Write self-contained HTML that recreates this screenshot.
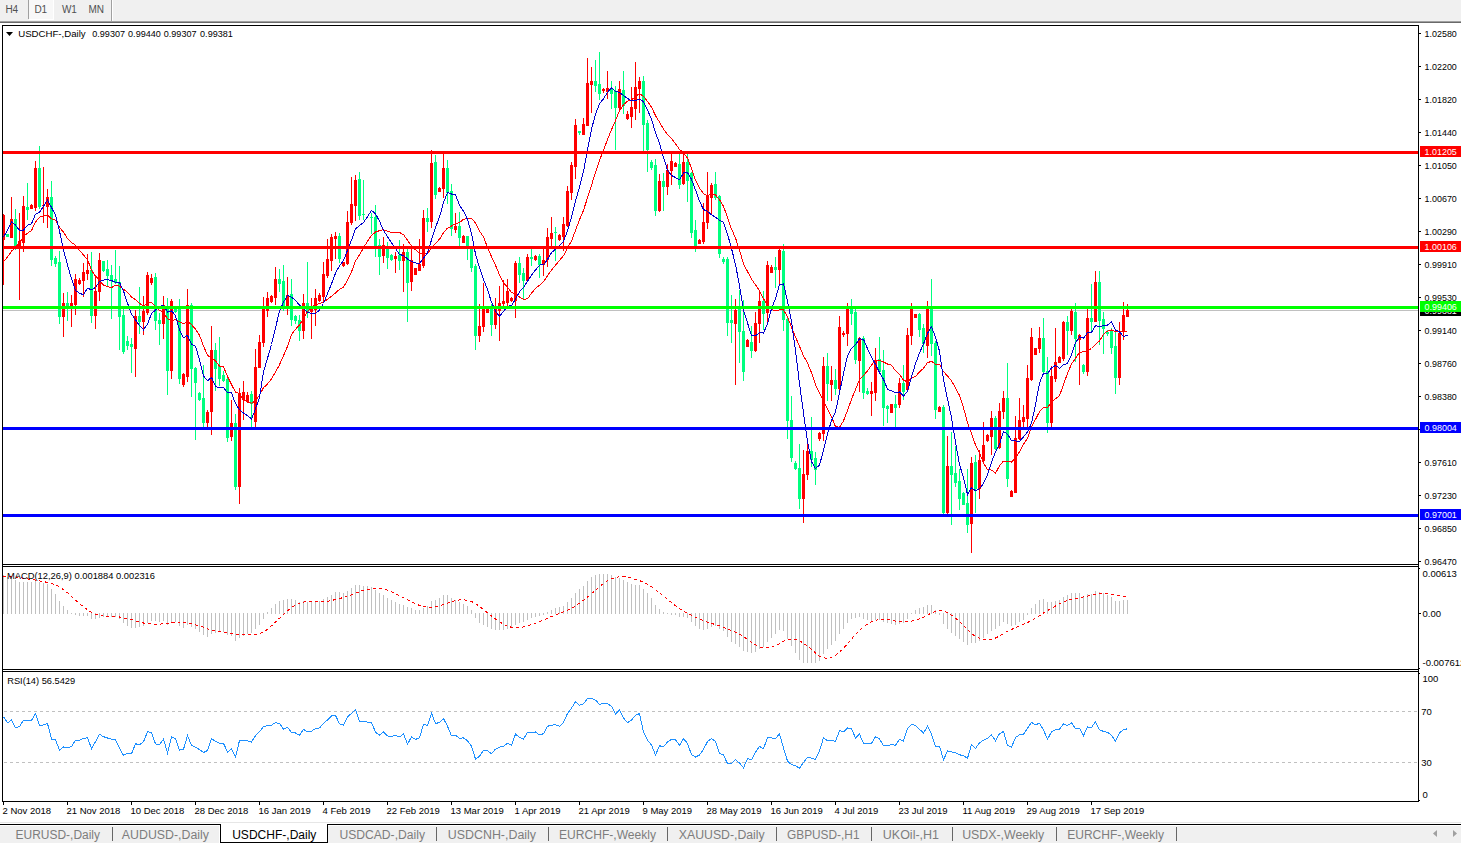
<!DOCTYPE html>
<html><head><meta charset="utf-8"><title>USDCHF-,Daily</title>
<style>
html,body{margin:0;padding:0;background:#fff}
body{width:1461px;height:843px;position:relative;overflow:hidden;font-family:"Liberation Sans",sans-serif;font-size:11px;color:#000}
#tb{position:absolute;left:0;top:0;width:1461px;height:21px;background:#f0f0f0}
#tb .l1{position:absolute;left:0;top:21px;width:100%;height:1px;background:#a0a0a0}
#tb .l2{position:absolute;left:0;top:22px;width:100%;height:1px;background:#696969}
#tb span{position:absolute;top:3.5px;color:#505050;font-size:10px;line-height:11px;letter-spacing:-0.2px}
#tb .sep{position:absolute;top:0;width:1px;height:19px;background:#a0a0a0}
#tb .sel{position:absolute;left:29px;top:0;width:24px;height:19px;background:#f8f8f8;border-right:1px solid #fff;border-bottom:1px solid #fff}
</style></head><body>
<div id="tb"><div class="sel"></div><span style="left:5.5px">H4</span><div class="sep" style="left:28px"></div><span style="left:34.6px">D1</span><span style="left:62px">W1</span><span style="left:88.5px">MN</span><div class="sep" style="left:111px;height:21px"></div><div class="sep" style="left:112px;height:21px;background:#fff"></div><div class="l1"></div><div class="l2"></div></div>
<svg width="1461" height="843" viewBox="0 0 1461 843" shape-rendering="crispEdges" style="position:absolute;left:0;top:0">
<defs><clipPath id="cm"><rect x="3" y="26" width="1415" height="538"/></clipPath></defs>
<g clip-path="url(#cm)">
<rect x="3" y="310" width="1415" height="1" fill="#c0c0c0"/>
<rect x="3" y="214" width="1" height="71" fill="#ff0000"/>
<rect x="2" y="215" width="3" height="25" fill="#ff0000"/>
<rect x="7" y="234" width="1" height="3" fill="#00ff7f"/>
<rect x="6" y="234" width="3" height="3" fill="#00ff7f"/>
<rect x="11" y="197" width="1" height="41" fill="#ff0000"/>
<rect x="10" y="219" width="3" height="19" fill="#ff0000"/>
<rect x="15" y="209" width="1" height="41" fill="#00ff7f"/>
<rect x="14" y="219" width="3" height="29" fill="#00ff7f"/>
<rect x="19" y="213" width="1" height="87" fill="#ff0000"/>
<rect x="18" y="241" width="3" height="7" fill="#ff0000"/>
<rect x="23" y="196" width="1" height="56" fill="#ff0000"/>
<rect x="22" y="206" width="3" height="37" fill="#ff0000"/>
<rect x="27" y="183" width="1" height="37" fill="#00ff7f"/>
<rect x="26" y="207" width="3" height="3" fill="#00ff7f"/>
<rect x="31" y="204" width="1" height="5" fill="#ff0000"/>
<rect x="30" y="205" width="3" height="4" fill="#ff0000"/>
<rect x="35" y="161" width="1" height="50" fill="#ff0000"/>
<rect x="34" y="168" width="3" height="40" fill="#ff0000"/>
<rect x="39" y="146" width="1" height="63" fill="#00ff7f"/>
<rect x="38" y="168" width="3" height="39" fill="#00ff7f"/>
<rect x="43" y="167" width="1" height="56" fill="#ff0000"/>
<rect x="42" y="205" width="3" height="1" fill="#ff0000"/>
<rect x="47" y="189" width="1" height="39" fill="#ff0000"/>
<rect x="46" y="197" width="3" height="10" fill="#ff0000"/>
<rect x="51" y="181" width="1" height="85" fill="#00ff7f"/>
<rect x="50" y="197" width="3" height="63" fill="#00ff7f"/>
<rect x="55" y="256" width="1" height="11" fill="#00ff7f"/>
<rect x="54" y="258" width="3" height="6" fill="#00ff7f"/>
<rect x="59" y="251" width="1" height="73" fill="#00ff7f"/>
<rect x="58" y="262" width="3" height="55" fill="#00ff7f"/>
<rect x="63" y="293" width="1" height="44" fill="#ff0000"/>
<rect x="62" y="303" width="3" height="14" fill="#ff0000"/>
<rect x="67" y="292" width="1" height="29" fill="#00ff7f"/>
<rect x="66" y="303" width="3" height="5" fill="#00ff7f"/>
<rect x="71" y="295" width="1" height="32" fill="#ff0000"/>
<rect x="70" y="303" width="3" height="5" fill="#ff0000"/>
<rect x="75" y="274" width="1" height="41" fill="#ff0000"/>
<rect x="74" y="279" width="3" height="26" fill="#ff0000"/>
<rect x="79" y="278" width="1" height="7" fill="#ff0000"/>
<rect x="78" y="280" width="3" height="4" fill="#ff0000"/>
<rect x="83" y="263" width="1" height="34" fill="#ff0000"/>
<rect x="82" y="272" width="3" height="9" fill="#ff0000"/>
<rect x="87" y="254" width="1" height="26" fill="#ff0000"/>
<rect x="86" y="270" width="3" height="4" fill="#ff0000"/>
<rect x="91" y="252" width="1" height="71" fill="#00ff7f"/>
<rect x="90" y="270" width="3" height="46" fill="#00ff7f"/>
<rect x="95" y="277" width="1" height="52" fill="#ff0000"/>
<rect x="94" y="291" width="3" height="25" fill="#ff0000"/>
<rect x="99" y="253" width="1" height="48" fill="#ff0000"/>
<rect x="98" y="260" width="3" height="32" fill="#ff0000"/>
<rect x="103" y="261" width="1" height="11" fill="#00ff7f"/>
<rect x="102" y="261" width="3" height="10" fill="#00ff7f"/>
<rect x="107" y="260" width="1" height="26" fill="#00ff7f"/>
<rect x="106" y="269" width="3" height="7" fill="#00ff7f"/>
<rect x="111" y="265" width="1" height="54" fill="#00ff7f"/>
<rect x="110" y="275" width="3" height="6" fill="#00ff7f"/>
<rect x="115" y="250" width="1" height="34" fill="#00ff7f"/>
<rect x="114" y="279" width="3" height="4" fill="#00ff7f"/>
<rect x="119" y="266" width="1" height="84" fill="#00ff7f"/>
<rect x="118" y="282" width="3" height="35" fill="#00ff7f"/>
<rect x="123" y="308" width="1" height="46" fill="#00ff7f"/>
<rect x="122" y="315" width="3" height="37" fill="#00ff7f"/>
<rect x="127" y="336" width="1" height="14" fill="#00ff7f"/>
<rect x="126" y="341" width="3" height="5" fill="#00ff7f"/>
<rect x="131" y="338" width="1" height="35" fill="#00ff7f"/>
<rect x="130" y="344" width="3" height="3" fill="#00ff7f"/>
<rect x="135" y="310" width="1" height="67" fill="#ff0000"/>
<rect x="134" y="316" width="3" height="33" fill="#ff0000"/>
<rect x="139" y="287" width="1" height="47" fill="#00ff7f"/>
<rect x="138" y="316" width="3" height="6" fill="#00ff7f"/>
<rect x="143" y="296" width="1" height="39" fill="#ff0000"/>
<rect x="142" y="311" width="3" height="11" fill="#ff0000"/>
<rect x="147" y="272" width="1" height="43" fill="#ff0000"/>
<rect x="146" y="275" width="3" height="38" fill="#ff0000"/>
<rect x="151" y="274" width="1" height="11" fill="#ff0000"/>
<rect x="150" y="278" width="3" height="5" fill="#ff0000"/>
<rect x="155" y="273" width="1" height="57" fill="#00ff7f"/>
<rect x="154" y="277" width="3" height="44" fill="#00ff7f"/>
<rect x="159" y="313" width="1" height="32" fill="#00ff7f"/>
<rect x="158" y="320" width="3" height="4" fill="#00ff7f"/>
<rect x="163" y="296" width="1" height="43" fill="#ff0000"/>
<rect x="162" y="305" width="3" height="19" fill="#ff0000"/>
<rect x="167" y="298" width="1" height="97" fill="#00ff7f"/>
<rect x="166" y="307" width="3" height="64" fill="#00ff7f"/>
<rect x="171" y="299" width="1" height="80" fill="#ff0000"/>
<rect x="170" y="301" width="3" height="70" fill="#ff0000"/>
<rect x="175" y="309" width="1" height="4" fill="#00ff7f"/>
<rect x="174" y="309" width="3" height="3" fill="#00ff7f"/>
<rect x="179" y="299" width="1" height="85" fill="#00ff7f"/>
<rect x="178" y="309" width="3" height="70" fill="#00ff7f"/>
<rect x="183" y="373" width="1" height="14" fill="#ff0000"/>
<rect x="182" y="374" width="3" height="11" fill="#ff0000"/>
<rect x="187" y="289" width="1" height="93" fill="#ff0000"/>
<rect x="186" y="305" width="3" height="72" fill="#ff0000"/>
<rect x="191" y="303" width="1" height="94" fill="#00ff7f"/>
<rect x="190" y="305" width="3" height="64" fill="#00ff7f"/>
<rect x="195" y="367" width="1" height="73" fill="#00ff7f"/>
<rect x="194" y="368" width="3" height="15" fill="#00ff7f"/>
<rect x="199" y="392" width="1" height="9" fill="#00ff7f"/>
<rect x="198" y="393" width="3" height="7" fill="#00ff7f"/>
<rect x="203" y="365" width="1" height="63" fill="#00ff7f"/>
<rect x="202" y="398" width="3" height="25" fill="#00ff7f"/>
<rect x="207" y="410" width="1" height="17" fill="#ff0000"/>
<rect x="206" y="412" width="3" height="11" fill="#ff0000"/>
<rect x="211" y="326" width="1" height="109" fill="#ff0000"/>
<rect x="210" y="350" width="3" height="62" fill="#ff0000"/>
<rect x="215" y="343" width="1" height="48" fill="#00ff7f"/>
<rect x="214" y="350" width="3" height="19" fill="#00ff7f"/>
<rect x="219" y="337" width="1" height="49" fill="#00ff7f"/>
<rect x="218" y="366" width="3" height="13" fill="#00ff7f"/>
<rect x="223" y="371" width="1" height="11" fill="#00ff7f"/>
<rect x="222" y="375" width="3" height="6" fill="#00ff7f"/>
<rect x="227" y="377" width="1" height="65" fill="#00ff7f"/>
<rect x="226" y="379" width="3" height="59" fill="#00ff7f"/>
<rect x="231" y="400" width="1" height="41" fill="#ff0000"/>
<rect x="230" y="423" width="3" height="14" fill="#ff0000"/>
<rect x="235" y="414" width="1" height="76" fill="#00ff7f"/>
<rect x="234" y="423" width="3" height="64" fill="#00ff7f"/>
<rect x="239" y="388" width="1" height="116" fill="#ff0000"/>
<rect x="238" y="393" width="3" height="94" fill="#ff0000"/>
<rect x="243" y="381" width="1" height="39" fill="#ff0000"/>
<rect x="242" y="392" width="3" height="8" fill="#ff0000"/>
<rect x="247" y="392" width="1" height="11" fill="#ff0000"/>
<rect x="246" y="395" width="3" height="7" fill="#ff0000"/>
<rect x="251" y="391" width="1" height="37" fill="#00ff7f"/>
<rect x="250" y="394" width="3" height="10" fill="#00ff7f"/>
<rect x="255" y="349" width="1" height="79" fill="#ff0000"/>
<rect x="254" y="367" width="3" height="55" fill="#ff0000"/>
<rect x="259" y="335" width="1" height="33" fill="#ff0000"/>
<rect x="258" y="342" width="3" height="26" fill="#ff0000"/>
<rect x="263" y="297" width="1" height="50" fill="#ff0000"/>
<rect x="262" y="307" width="3" height="36" fill="#ff0000"/>
<rect x="267" y="292" width="1" height="25" fill="#ff0000"/>
<rect x="266" y="298" width="3" height="13" fill="#ff0000"/>
<rect x="271" y="295" width="1" height="8" fill="#ff0000"/>
<rect x="270" y="296" width="3" height="6" fill="#ff0000"/>
<rect x="275" y="267" width="1" height="38" fill="#ff0000"/>
<rect x="274" y="279" width="3" height="19" fill="#ff0000"/>
<rect x="279" y="269" width="1" height="23" fill="#00ff7f"/>
<rect x="278" y="279" width="3" height="5" fill="#00ff7f"/>
<rect x="283" y="265" width="1" height="46" fill="#00ff7f"/>
<rect x="282" y="281" width="3" height="27" fill="#00ff7f"/>
<rect x="287" y="277" width="1" height="38" fill="#ff0000"/>
<rect x="286" y="295" width="3" height="12" fill="#ff0000"/>
<rect x="291" y="279" width="1" height="47" fill="#00ff7f"/>
<rect x="290" y="294" width="3" height="26" fill="#00ff7f"/>
<rect x="295" y="315" width="1" height="9" fill="#00ff7f"/>
<rect x="294" y="316" width="3" height="5" fill="#00ff7f"/>
<rect x="299" y="315" width="1" height="26" fill="#00ff7f"/>
<rect x="298" y="320" width="3" height="11" fill="#00ff7f"/>
<rect x="303" y="294" width="1" height="45" fill="#ff0000"/>
<rect x="302" y="303" width="3" height="28" fill="#ff0000"/>
<rect x="307" y="262" width="1" height="56" fill="#00ff7f"/>
<rect x="306" y="303" width="3" height="10" fill="#00ff7f"/>
<rect x="311" y="298" width="1" height="41" fill="#ff0000"/>
<rect x="310" y="309" width="3" height="3" fill="#ff0000"/>
<rect x="315" y="289" width="1" height="37" fill="#ff0000"/>
<rect x="314" y="298" width="3" height="12" fill="#ff0000"/>
<rect x="319" y="293" width="1" height="9" fill="#ff0000"/>
<rect x="318" y="295" width="3" height="6" fill="#ff0000"/>
<rect x="323" y="262" width="1" height="39" fill="#ff0000"/>
<rect x="322" y="274" width="3" height="23" fill="#ff0000"/>
<rect x="327" y="239" width="1" height="39" fill="#ff0000"/>
<rect x="326" y="259" width="3" height="17" fill="#ff0000"/>
<rect x="331" y="234" width="1" height="37" fill="#ff0000"/>
<rect x="330" y="237" width="3" height="24" fill="#ff0000"/>
<rect x="335" y="232" width="1" height="27" fill="#ff0000"/>
<rect x="334" y="236" width="3" height="3" fill="#ff0000"/>
<rect x="339" y="233" width="1" height="30" fill="#00ff7f"/>
<rect x="338" y="236" width="3" height="23" fill="#00ff7f"/>
<rect x="343" y="262" width="1" height="5" fill="#ff0000"/>
<rect x="342" y="262" width="3" height="4" fill="#ff0000"/>
<rect x="347" y="211" width="1" height="54" fill="#ff0000"/>
<rect x="346" y="222" width="3" height="42" fill="#ff0000"/>
<rect x="351" y="177" width="1" height="48" fill="#ff0000"/>
<rect x="350" y="204" width="3" height="19" fill="#ff0000"/>
<rect x="355" y="175" width="1" height="46" fill="#ff0000"/>
<rect x="354" y="180" width="3" height="26" fill="#ff0000"/>
<rect x="359" y="172" width="1" height="48" fill="#00ff7f"/>
<rect x="358" y="179" width="3" height="37" fill="#00ff7f"/>
<rect x="363" y="180" width="1" height="40" fill="#00ff7f"/>
<rect x="362" y="214" width="3" height="1" fill="#00ff7f"/>
<rect x="371" y="213" width="1" height="21" fill="#00ff7f"/>
<rect x="370" y="217" width="3" height="1" fill="#00ff7f"/>
<rect x="375" y="205" width="1" height="52" fill="#00ff7f"/>
<rect x="374" y="217" width="3" height="30" fill="#00ff7f"/>
<rect x="379" y="239" width="1" height="36" fill="#00ff7f"/>
<rect x="378" y="245" width="3" height="12" fill="#00ff7f"/>
<rect x="383" y="237" width="1" height="26" fill="#ff0000"/>
<rect x="382" y="245" width="3" height="11" fill="#ff0000"/>
<rect x="387" y="242" width="1" height="27" fill="#00ff7f"/>
<rect x="386" y="249" width="3" height="9" fill="#00ff7f"/>
<rect x="391" y="254" width="1" height="7" fill="#00ff7f"/>
<rect x="390" y="255" width="3" height="5" fill="#00ff7f"/>
<rect x="395" y="252" width="1" height="21" fill="#ff0000"/>
<rect x="394" y="256" width="3" height="3" fill="#ff0000"/>
<rect x="399" y="240" width="1" height="30" fill="#00ff7f"/>
<rect x="398" y="255" width="3" height="6" fill="#00ff7f"/>
<rect x="403" y="244" width="1" height="48" fill="#ff0000"/>
<rect x="402" y="252" width="3" height="9" fill="#ff0000"/>
<rect x="407" y="249" width="1" height="73" fill="#00ff7f"/>
<rect x="406" y="252" width="3" height="31" fill="#00ff7f"/>
<rect x="411" y="246" width="1" height="45" fill="#ff0000"/>
<rect x="410" y="260" width="3" height="22" fill="#ff0000"/>
<rect x="415" y="268" width="1" height="7" fill="#ff0000"/>
<rect x="414" y="268" width="3" height="7" fill="#ff0000"/>
<rect x="419" y="239" width="1" height="32" fill="#ff0000"/>
<rect x="418" y="264" width="3" height="7" fill="#ff0000"/>
<rect x="423" y="210" width="1" height="58" fill="#ff0000"/>
<rect x="422" y="218" width="3" height="48" fill="#ff0000"/>
<rect x="427" y="208" width="1" height="24" fill="#00ff7f"/>
<rect x="426" y="218" width="3" height="4" fill="#00ff7f"/>
<rect x="431" y="150" width="1" height="78" fill="#ff0000"/>
<rect x="430" y="163" width="3" height="59" fill="#ff0000"/>
<rect x="435" y="155" width="1" height="44" fill="#00ff7f"/>
<rect x="434" y="162" width="3" height="33" fill="#00ff7f"/>
<rect x="439" y="187" width="1" height="5" fill="#ff0000"/>
<rect x="438" y="188" width="3" height="4" fill="#ff0000"/>
<rect x="443" y="153" width="1" height="45" fill="#ff0000"/>
<rect x="442" y="168" width="3" height="21" fill="#ff0000"/>
<rect x="447" y="160" width="1" height="44" fill="#00ff7f"/>
<rect x="446" y="168" width="3" height="25" fill="#00ff7f"/>
<rect x="451" y="184" width="1" height="52" fill="#00ff7f"/>
<rect x="450" y="191" width="3" height="38" fill="#00ff7f"/>
<rect x="455" y="213" width="1" height="20" fill="#ff0000"/>
<rect x="454" y="226" width="3" height="4" fill="#ff0000"/>
<rect x="459" y="212" width="1" height="36" fill="#00ff7f"/>
<rect x="458" y="226" width="3" height="12" fill="#00ff7f"/>
<rect x="463" y="235" width="1" height="8" fill="#ff0000"/>
<rect x="462" y="236" width="3" height="7" fill="#ff0000"/>
<rect x="467" y="236" width="1" height="24" fill="#00ff7f"/>
<rect x="466" y="236" width="3" height="11" fill="#00ff7f"/>
<rect x="471" y="246" width="1" height="26" fill="#00ff7f"/>
<rect x="470" y="249" width="3" height="19" fill="#00ff7f"/>
<rect x="475" y="264" width="1" height="86" fill="#00ff7f"/>
<rect x="474" y="266" width="3" height="70" fill="#00ff7f"/>
<rect x="479" y="304" width="1" height="38" fill="#ff0000"/>
<rect x="478" y="326" width="3" height="10" fill="#ff0000"/>
<rect x="483" y="283" width="1" height="49" fill="#ff0000"/>
<rect x="482" y="306" width="3" height="21" fill="#ff0000"/>
<rect x="487" y="308" width="1" height="5" fill="#ff0000"/>
<rect x="486" y="309" width="3" height="4" fill="#ff0000"/>
<rect x="491" y="304" width="1" height="32" fill="#00ff7f"/>
<rect x="490" y="306" width="3" height="19" fill="#00ff7f"/>
<rect x="495" y="298" width="1" height="31" fill="#ff0000"/>
<rect x="494" y="309" width="3" height="16" fill="#ff0000"/>
<rect x="499" y="286" width="1" height="55" fill="#ff0000"/>
<rect x="498" y="303" width="3" height="8" fill="#ff0000"/>
<rect x="503" y="280" width="1" height="27" fill="#ff0000"/>
<rect x="502" y="301" width="3" height="3" fill="#ff0000"/>
<rect x="507" y="279" width="1" height="27" fill="#ff0000"/>
<rect x="506" y="291" width="3" height="12" fill="#ff0000"/>
<rect x="511" y="297" width="1" height="5" fill="#ff0000"/>
<rect x="510" y="298" width="3" height="3" fill="#ff0000"/>
<rect x="515" y="261" width="1" height="57" fill="#ff0000"/>
<rect x="514" y="263" width="3" height="38" fill="#ff0000"/>
<rect x="519" y="257" width="1" height="26" fill="#00ff7f"/>
<rect x="518" y="263" width="3" height="12" fill="#00ff7f"/>
<rect x="523" y="268" width="1" height="31" fill="#00ff7f"/>
<rect x="522" y="273" width="3" height="8" fill="#00ff7f"/>
<rect x="527" y="254" width="1" height="28" fill="#ff0000"/>
<rect x="526" y="257" width="3" height="24" fill="#ff0000"/>
<rect x="531" y="249" width="1" height="17" fill="#00ff7f"/>
<rect x="530" y="257" width="3" height="2" fill="#00ff7f"/>
<rect x="535" y="255" width="1" height="6" fill="#ff0000"/>
<rect x="534" y="256" width="3" height="4" fill="#ff0000"/>
<rect x="539" y="254" width="1" height="24" fill="#00ff7f"/>
<rect x="538" y="256" width="3" height="9" fill="#00ff7f"/>
<rect x="543" y="249" width="1" height="27" fill="#ff0000"/>
<rect x="542" y="260" width="3" height="5" fill="#ff0000"/>
<rect x="547" y="228" width="1" height="39" fill="#ff0000"/>
<rect x="546" y="237" width="3" height="23" fill="#ff0000"/>
<rect x="551" y="217" width="1" height="30" fill="#ff0000"/>
<rect x="550" y="233" width="3" height="6" fill="#ff0000"/>
<rect x="555" y="227" width="1" height="34" fill="#00ff7f"/>
<rect x="554" y="232" width="3" height="1" fill="#00ff7f"/>
<rect x="559" y="234" width="1" height="7" fill="#ff0000"/>
<rect x="558" y="235" width="3" height="5" fill="#ff0000"/>
<rect x="563" y="217" width="1" height="34" fill="#ff0000"/>
<rect x="562" y="224" width="3" height="13" fill="#ff0000"/>
<rect x="567" y="186" width="1" height="41" fill="#ff0000"/>
<rect x="566" y="191" width="3" height="35" fill="#ff0000"/>
<rect x="571" y="162" width="1" height="38" fill="#ff0000"/>
<rect x="570" y="165" width="3" height="28" fill="#ff0000"/>
<rect x="575" y="119" width="1" height="60" fill="#ff0000"/>
<rect x="574" y="125" width="3" height="42" fill="#ff0000"/>
<rect x="579" y="131" width="1" height="4" fill="#00ff7f"/>
<rect x="578" y="131" width="3" height="2" fill="#00ff7f"/>
<rect x="583" y="118" width="1" height="17" fill="#ff0000"/>
<rect x="582" y="124" width="3" height="11" fill="#ff0000"/>
<rect x="587" y="58" width="1" height="68" fill="#ff0000"/>
<rect x="586" y="83" width="3" height="43" fill="#ff0000"/>
<rect x="591" y="67" width="1" height="46" fill="#ff0000"/>
<rect x="590" y="81" width="3" height="4" fill="#ff0000"/>
<rect x="595" y="60" width="1" height="32" fill="#00ff7f"/>
<rect x="594" y="81" width="3" height="5" fill="#00ff7f"/>
<rect x="599" y="52" width="1" height="48" fill="#00ff7f"/>
<rect x="598" y="84" width="3" height="10" fill="#00ff7f"/>
<rect x="603" y="88" width="1" height="5" fill="#ff0000"/>
<rect x="602" y="89" width="3" height="2" fill="#ff0000"/>
<rect x="607" y="71" width="1" height="28" fill="#ff0000"/>
<rect x="606" y="88" width="3" height="4" fill="#ff0000"/>
<rect x="611" y="81" width="1" height="28" fill="#00ff7f"/>
<rect x="610" y="89" width="3" height="5" fill="#00ff7f"/>
<rect x="615" y="86" width="1" height="64" fill="#00ff7f"/>
<rect x="614" y="91" width="3" height="17" fill="#00ff7f"/>
<rect x="619" y="81" width="1" height="30" fill="#ff0000"/>
<rect x="618" y="89" width="3" height="19" fill="#ff0000"/>
<rect x="623" y="71" width="1" height="43" fill="#00ff7f"/>
<rect x="622" y="90" width="3" height="16" fill="#00ff7f"/>
<rect x="627" y="111" width="1" height="9" fill="#ff0000"/>
<rect x="626" y="114" width="3" height="5" fill="#ff0000"/>
<rect x="631" y="87" width="1" height="41" fill="#ff0000"/>
<rect x="630" y="107" width="3" height="10" fill="#ff0000"/>
<rect x="635" y="62" width="1" height="58" fill="#ff0000"/>
<rect x="634" y="87" width="3" height="22" fill="#ff0000"/>
<rect x="639" y="77" width="1" height="36" fill="#ff0000"/>
<rect x="638" y="81" width="3" height="8" fill="#ff0000"/>
<rect x="643" y="76" width="1" height="76" fill="#00ff7f"/>
<rect x="642" y="81" width="3" height="44" fill="#00ff7f"/>
<rect x="647" y="120" width="1" height="52" fill="#00ff7f"/>
<rect x="646" y="123" width="3" height="27" fill="#00ff7f"/>
<rect x="651" y="160" width="1" height="10" fill="#00ff7f"/>
<rect x="650" y="162" width="3" height="6" fill="#00ff7f"/>
<rect x="655" y="159" width="1" height="57" fill="#00ff7f"/>
<rect x="654" y="165" width="3" height="46" fill="#00ff7f"/>
<rect x="659" y="174" width="1" height="38" fill="#ff0000"/>
<rect x="658" y="181" width="3" height="30" fill="#ff0000"/>
<rect x="663" y="173" width="1" height="38" fill="#00ff7f"/>
<rect x="662" y="181" width="3" height="6" fill="#00ff7f"/>
<rect x="667" y="164" width="1" height="31" fill="#ff0000"/>
<rect x="666" y="170" width="3" height="17" fill="#ff0000"/>
<rect x="671" y="154" width="1" height="31" fill="#ff0000"/>
<rect x="670" y="161" width="3" height="10" fill="#ff0000"/>
<rect x="675" y="162" width="1" height="5" fill="#ff0000"/>
<rect x="674" y="163" width="3" height="4" fill="#ff0000"/>
<rect x="679" y="154" width="1" height="35" fill="#00ff7f"/>
<rect x="678" y="164" width="3" height="21" fill="#00ff7f"/>
<rect x="683" y="154" width="1" height="31" fill="#ff0000"/>
<rect x="682" y="162" width="3" height="22" fill="#ff0000"/>
<rect x="687" y="154" width="1" height="48" fill="#00ff7f"/>
<rect x="686" y="162" width="3" height="19" fill="#00ff7f"/>
<rect x="691" y="172" width="1" height="66" fill="#00ff7f"/>
<rect x="690" y="173" width="3" height="60" fill="#00ff7f"/>
<rect x="695" y="220" width="1" height="32" fill="#00ff7f"/>
<rect x="694" y="230" width="3" height="16" fill="#00ff7f"/>
<rect x="699" y="239" width="1" height="5" fill="#ff0000"/>
<rect x="698" y="240" width="3" height="4" fill="#ff0000"/>
<rect x="703" y="203" width="1" height="41" fill="#ff0000"/>
<rect x="702" y="222" width="3" height="20" fill="#ff0000"/>
<rect x="707" y="172" width="1" height="57" fill="#ff0000"/>
<rect x="706" y="196" width="3" height="27" fill="#ff0000"/>
<rect x="711" y="183" width="1" height="32" fill="#ff0000"/>
<rect x="710" y="185" width="3" height="13" fill="#ff0000"/>
<rect x="715" y="172" width="1" height="28" fill="#00ff7f"/>
<rect x="714" y="184" width="3" height="14" fill="#00ff7f"/>
<rect x="719" y="195" width="1" height="63" fill="#00ff7f"/>
<rect x="718" y="196" width="3" height="58" fill="#00ff7f"/>
<rect x="723" y="257" width="1" height="7" fill="#00ff7f"/>
<rect x="722" y="259" width="3" height="3" fill="#00ff7f"/>
<rect x="727" y="257" width="1" height="79" fill="#00ff7f"/>
<rect x="726" y="259" width="3" height="64" fill="#00ff7f"/>
<rect x="731" y="295" width="1" height="48" fill="#00ff7f"/>
<rect x="730" y="320" width="3" height="3" fill="#00ff7f"/>
<rect x="735" y="299" width="1" height="86" fill="#ff0000"/>
<rect x="734" y="310" width="3" height="14" fill="#ff0000"/>
<rect x="739" y="290" width="1" height="73" fill="#00ff7f"/>
<rect x="738" y="309" width="3" height="23" fill="#00ff7f"/>
<rect x="743" y="300" width="1" height="81" fill="#00ff7f"/>
<rect x="742" y="331" width="3" height="41" fill="#00ff7f"/>
<rect x="747" y="339" width="1" height="8" fill="#ff0000"/>
<rect x="746" y="340" width="3" height="7" fill="#ff0000"/>
<rect x="751" y="326" width="1" height="32" fill="#00ff7f"/>
<rect x="750" y="342" width="3" height="9" fill="#00ff7f"/>
<rect x="755" y="312" width="1" height="40" fill="#ff0000"/>
<rect x="754" y="323" width="3" height="28" fill="#ff0000"/>
<rect x="759" y="292" width="1" height="51" fill="#ff0000"/>
<rect x="758" y="301" width="3" height="23" fill="#ff0000"/>
<rect x="763" y="291" width="1" height="39" fill="#00ff7f"/>
<rect x="762" y="301" width="3" height="13" fill="#00ff7f"/>
<rect x="767" y="261" width="1" height="62" fill="#ff0000"/>
<rect x="766" y="265" width="3" height="48" fill="#ff0000"/>
<rect x="771" y="265" width="1" height="8" fill="#ff0000"/>
<rect x="770" y="267" width="3" height="6" fill="#ff0000"/>
<rect x="775" y="257" width="1" height="31" fill="#00ff7f"/>
<rect x="774" y="267" width="3" height="3" fill="#00ff7f"/>
<rect x="779" y="249" width="1" height="36" fill="#ff0000"/>
<rect x="778" y="250" width="3" height="20" fill="#ff0000"/>
<rect x="783" y="244" width="1" height="87" fill="#00ff7f"/>
<rect x="782" y="251" width="3" height="69" fill="#00ff7f"/>
<rect x="787" y="318" width="1" height="121" fill="#00ff7f"/>
<rect x="786" y="319" width="3" height="102" fill="#00ff7f"/>
<rect x="791" y="396" width="1" height="66" fill="#00ff7f"/>
<rect x="790" y="420" width="3" height="38" fill="#00ff7f"/>
<rect x="795" y="461" width="1" height="9" fill="#00ff7f"/>
<rect x="794" y="463" width="3" height="6" fill="#00ff7f"/>
<rect x="799" y="444" width="1" height="65" fill="#00ff7f"/>
<rect x="798" y="468" width="3" height="31" fill="#00ff7f"/>
<rect x="803" y="450" width="1" height="73" fill="#ff0000"/>
<rect x="802" y="474" width="3" height="25" fill="#ff0000"/>
<rect x="807" y="444" width="1" height="36" fill="#ff0000"/>
<rect x="806" y="451" width="3" height="24" fill="#ff0000"/>
<rect x="811" y="417" width="1" height="50" fill="#00ff7f"/>
<rect x="810" y="451" width="3" height="9" fill="#00ff7f"/>
<rect x="815" y="452" width="1" height="33" fill="#00ff7f"/>
<rect x="814" y="458" width="3" height="12" fill="#00ff7f"/>
<rect x="819" y="432" width="1" height="9" fill="#ff0000"/>
<rect x="818" y="433" width="3" height="6" fill="#ff0000"/>
<rect x="823" y="357" width="1" height="84" fill="#ff0000"/>
<rect x="822" y="366" width="3" height="68" fill="#ff0000"/>
<rect x="827" y="353" width="1" height="48" fill="#00ff7f"/>
<rect x="826" y="366" width="3" height="18" fill="#00ff7f"/>
<rect x="831" y="366" width="1" height="35" fill="#ff0000"/>
<rect x="830" y="380" width="3" height="5" fill="#ff0000"/>
<rect x="835" y="369" width="1" height="26" fill="#00ff7f"/>
<rect x="834" y="380" width="3" height="9" fill="#00ff7f"/>
<rect x="839" y="316" width="1" height="74" fill="#ff0000"/>
<rect x="838" y="327" width="3" height="62" fill="#ff0000"/>
<rect x="843" y="331" width="1" height="6" fill="#ff0000"/>
<rect x="842" y="333" width="3" height="2" fill="#ff0000"/>
<rect x="847" y="303" width="1" height="43" fill="#ff0000"/>
<rect x="846" y="309" width="3" height="25" fill="#ff0000"/>
<rect x="851" y="299" width="1" height="26" fill="#00ff7f"/>
<rect x="850" y="309" width="3" height="5" fill="#00ff7f"/>
<rect x="855" y="308" width="1" height="56" fill="#00ff7f"/>
<rect x="854" y="312" width="3" height="48" fill="#00ff7f"/>
<rect x="859" y="337" width="1" height="55" fill="#ff0000"/>
<rect x="858" y="338" width="3" height="23" fill="#ff0000"/>
<rect x="863" y="336" width="1" height="63" fill="#00ff7f"/>
<rect x="862" y="338" width="3" height="55" fill="#00ff7f"/>
<rect x="867" y="388" width="1" height="7" fill="#00ff7f"/>
<rect x="866" y="391" width="3" height="3" fill="#00ff7f"/>
<rect x="871" y="382" width="1" height="34" fill="#ff0000"/>
<rect x="870" y="391" width="3" height="3" fill="#ff0000"/>
<rect x="875" y="348" width="1" height="53" fill="#ff0000"/>
<rect x="874" y="360" width="3" height="33" fill="#ff0000"/>
<rect x="879" y="337" width="1" height="36" fill="#00ff7f"/>
<rect x="878" y="359" width="3" height="13" fill="#00ff7f"/>
<rect x="883" y="350" width="1" height="76" fill="#00ff7f"/>
<rect x="882" y="370" width="3" height="38" fill="#00ff7f"/>
<rect x="887" y="405" width="1" height="18" fill="#00ff7f"/>
<rect x="886" y="406" width="3" height="3" fill="#00ff7f"/>
<rect x="891" y="404" width="1" height="9" fill="#ff0000"/>
<rect x="890" y="404" width="3" height="9" fill="#ff0000"/>
<rect x="895" y="395" width="1" height="32" fill="#00ff7f"/>
<rect x="894" y="404" width="3" height="4" fill="#00ff7f"/>
<rect x="899" y="378" width="1" height="30" fill="#ff0000"/>
<rect x="898" y="383" width="3" height="22" fill="#ff0000"/>
<rect x="903" y="365" width="1" height="35" fill="#00ff7f"/>
<rect x="902" y="383" width="3" height="9" fill="#00ff7f"/>
<rect x="907" y="328" width="1" height="64" fill="#ff0000"/>
<rect x="906" y="335" width="3" height="55" fill="#ff0000"/>
<rect x="911" y="303" width="1" height="42" fill="#ff0000"/>
<rect x="910" y="309" width="3" height="27" fill="#ff0000"/>
<rect x="915" y="314" width="1" height="4" fill="#ff0000"/>
<rect x="914" y="314" width="3" height="4" fill="#ff0000"/>
<rect x="919" y="313" width="1" height="24" fill="#00ff7f"/>
<rect x="918" y="314" width="3" height="16" fill="#00ff7f"/>
<rect x="923" y="324" width="1" height="29" fill="#00ff7f"/>
<rect x="922" y="328" width="3" height="16" fill="#00ff7f"/>
<rect x="927" y="301" width="1" height="57" fill="#ff0000"/>
<rect x="926" y="309" width="3" height="37" fill="#ff0000"/>
<rect x="931" y="279" width="1" height="77" fill="#00ff7f"/>
<rect x="930" y="309" width="3" height="35" fill="#00ff7f"/>
<rect x="935" y="341" width="1" height="78" fill="#00ff7f"/>
<rect x="934" y="343" width="3" height="67" fill="#00ff7f"/>
<rect x="939" y="406" width="1" height="6" fill="#ff0000"/>
<rect x="938" y="407" width="3" height="5" fill="#ff0000"/>
<rect x="943" y="405" width="1" height="110" fill="#00ff7f"/>
<rect x="942" y="407" width="3" height="106" fill="#00ff7f"/>
<rect x="947" y="436" width="1" height="78" fill="#ff0000"/>
<rect x="946" y="466" width="3" height="47" fill="#ff0000"/>
<rect x="951" y="432" width="1" height="93" fill="#00ff7f"/>
<rect x="950" y="466" width="3" height="9" fill="#00ff7f"/>
<rect x="955" y="446" width="1" height="41" fill="#00ff7f"/>
<rect x="954" y="473" width="3" height="10" fill="#00ff7f"/>
<rect x="959" y="469" width="1" height="41" fill="#00ff7f"/>
<rect x="958" y="481" width="3" height="18" fill="#00ff7f"/>
<rect x="963" y="492" width="1" height="13" fill="#00ff7f"/>
<rect x="962" y="493" width="3" height="12" fill="#00ff7f"/>
<rect x="967" y="469" width="1" height="64" fill="#00ff7f"/>
<rect x="966" y="503" width="3" height="22" fill="#00ff7f"/>
<rect x="971" y="457" width="1" height="96" fill="#ff0000"/>
<rect x="970" y="463" width="3" height="61" fill="#ff0000"/>
<rect x="975" y="455" width="1" height="58" fill="#00ff7f"/>
<rect x="974" y="462" width="3" height="27" fill="#00ff7f"/>
<rect x="979" y="450" width="1" height="49" fill="#ff0000"/>
<rect x="978" y="460" width="3" height="29" fill="#ff0000"/>
<rect x="983" y="422" width="1" height="41" fill="#ff0000"/>
<rect x="982" y="445" width="3" height="16" fill="#ff0000"/>
<rect x="987" y="434" width="1" height="8" fill="#ff0000"/>
<rect x="986" y="435" width="3" height="6" fill="#ff0000"/>
<rect x="991" y="411" width="1" height="44" fill="#ff0000"/>
<rect x="990" y="418" width="3" height="19" fill="#ff0000"/>
<rect x="995" y="416" width="1" height="34" fill="#00ff7f"/>
<rect x="994" y="418" width="3" height="31" fill="#00ff7f"/>
<rect x="999" y="403" width="1" height="46" fill="#ff0000"/>
<rect x="998" y="411" width="3" height="37" fill="#ff0000"/>
<rect x="1003" y="391" width="1" height="28" fill="#ff0000"/>
<rect x="1002" y="398" width="3" height="14" fill="#ff0000"/>
<rect x="1007" y="363" width="1" height="124" fill="#00ff7f"/>
<rect x="1006" y="398" width="3" height="81" fill="#00ff7f"/>
<rect x="1011" y="490" width="1" height="7" fill="#ff0000"/>
<rect x="1010" y="491" width="3" height="6" fill="#ff0000"/>
<rect x="1015" y="416" width="1" height="77" fill="#ff0000"/>
<rect x="1014" y="438" width="3" height="55" fill="#ff0000"/>
<rect x="1019" y="398" width="1" height="42" fill="#ff0000"/>
<rect x="1018" y="420" width="3" height="19" fill="#ff0000"/>
<rect x="1023" y="405" width="1" height="23" fill="#ff0000"/>
<rect x="1022" y="417" width="3" height="5" fill="#ff0000"/>
<rect x="1027" y="365" width="1" height="63" fill="#ff0000"/>
<rect x="1026" y="378" width="3" height="41" fill="#ff0000"/>
<rect x="1031" y="328" width="1" height="53" fill="#ff0000"/>
<rect x="1030" y="337" width="3" height="43" fill="#ff0000"/>
<rect x="1035" y="348" width="1" height="7" fill="#ff0000"/>
<rect x="1034" y="348" width="3" height="7" fill="#ff0000"/>
<rect x="1039" y="327" width="1" height="26" fill="#ff0000"/>
<rect x="1038" y="338" width="3" height="11" fill="#ff0000"/>
<rect x="1043" y="318" width="1" height="56" fill="#00ff7f"/>
<rect x="1042" y="338" width="3" height="34" fill="#00ff7f"/>
<rect x="1047" y="357" width="1" height="76" fill="#00ff7f"/>
<rect x="1046" y="371" width="3" height="52" fill="#00ff7f"/>
<rect x="1051" y="366" width="1" height="61" fill="#ff0000"/>
<rect x="1050" y="376" width="3" height="47" fill="#ff0000"/>
<rect x="1055" y="328" width="1" height="54" fill="#ff0000"/>
<rect x="1054" y="362" width="3" height="17" fill="#ff0000"/>
<rect x="1059" y="356" width="1" height="7" fill="#ff0000"/>
<rect x="1058" y="357" width="3" height="6" fill="#ff0000"/>
<rect x="1063" y="321" width="1" height="40" fill="#ff0000"/>
<rect x="1062" y="322" width="3" height="37" fill="#ff0000"/>
<rect x="1067" y="316" width="1" height="39" fill="#00ff7f"/>
<rect x="1066" y="322" width="3" height="9" fill="#00ff7f"/>
<rect x="1071" y="309" width="1" height="26" fill="#ff0000"/>
<rect x="1070" y="311" width="3" height="20" fill="#ff0000"/>
<rect x="1075" y="303" width="1" height="59" fill="#00ff7f"/>
<rect x="1074" y="312" width="3" height="27" fill="#00ff7f"/>
<rect x="1079" y="334" width="1" height="51" fill="#ff0000"/>
<rect x="1078" y="335" width="3" height="5" fill="#ff0000"/>
<rect x="1083" y="364" width="1" height="10" fill="#00ff7f"/>
<rect x="1082" y="365" width="3" height="7" fill="#00ff7f"/>
<rect x="1087" y="309" width="1" height="67" fill="#ff0000"/>
<rect x="1086" y="318" width="3" height="54" fill="#ff0000"/>
<rect x="1091" y="284" width="1" height="48" fill="#00ff7f"/>
<rect x="1090" y="318" width="3" height="4" fill="#00ff7f"/>
<rect x="1095" y="271" width="1" height="51" fill="#ff0000"/>
<rect x="1094" y="282" width="3" height="40" fill="#ff0000"/>
<rect x="1099" y="271" width="1" height="74" fill="#00ff7f"/>
<rect x="1098" y="282" width="3" height="39" fill="#00ff7f"/>
<rect x="1103" y="312" width="1" height="42" fill="#00ff7f"/>
<rect x="1102" y="319" width="3" height="10" fill="#00ff7f"/>
<rect x="1107" y="330" width="1" height="6" fill="#00ff7f"/>
<rect x="1106" y="332" width="3" height="2" fill="#00ff7f"/>
<rect x="1111" y="328" width="1" height="26" fill="#00ff7f"/>
<rect x="1110" y="331" width="3" height="17" fill="#00ff7f"/>
<rect x="1115" y="331" width="1" height="63" fill="#00ff7f"/>
<rect x="1114" y="346" width="3" height="32" fill="#00ff7f"/>
<rect x="1119" y="322" width="1" height="63" fill="#ff0000"/>
<rect x="1118" y="333" width="3" height="45" fill="#ff0000"/>
<rect x="1123" y="302" width="1" height="38" fill="#ff0000"/>
<rect x="1122" y="315" width="3" height="16" fill="#ff0000"/>
<rect x="1127" y="304" width="1" height="13" fill="#ff0000"/>
<rect x="1126" y="310" width="3" height="7" fill="#ff0000"/>
<polyline points="3.5,261.8 7.5,257.1 11.5,251.2 15.5,247.3 19.5,243.0 23.5,236.2 27.5,233.3 31.5,230.5 35.5,222.1 39.5,217.1 43.5,215.7 47.5,215.1 51.5,218.8 55.5,220.2 59.5,227.4 63.5,232.2 67.5,238.5 71.5,242.5 75.5,245.2 79.5,250.4 83.5,255.0 87.5,259.6 91.5,270.1 95.5,276.1 99.5,280.1 103.5,285.3 107.5,286.4 111.5,287.7 115.5,285.2 119.5,286.2 123.5,289.3 127.5,292.3 131.5,297.1 135.5,299.7 139.5,303.2 143.5,306.1 147.5,303.3 151.5,302.3 155.5,306.6 159.5,310.4 163.5,312.5 167.5,318.9 171.5,320.3 175.5,319.9 179.5,321.9 183.5,323.9 187.5,321.0 191.5,324.7 195.5,329.1 199.5,335.4 203.5,345.9 207.5,355.5 211.5,357.6 215.5,360.8 219.5,366.1 223.5,366.8 227.5,376.5 231.5,384.5 235.5,392.2 239.5,393.5 243.5,399.8 247.5,401.7 251.5,403.2 255.5,400.9 259.5,395.2 263.5,387.7 267.5,384.0 271.5,378.8 275.5,371.8 279.5,364.8 283.5,355.6 287.5,346.4 291.5,334.5 295.5,329.3 299.5,324.9 303.5,318.3 307.5,311.8 311.5,307.6 315.5,304.5 319.5,303.7 323.5,301.9 327.5,299.3 331.5,296.3 335.5,292.9 339.5,289.4 343.5,287.1 347.5,280.1 351.5,271.8 355.5,261.1 359.5,254.8 363.5,247.8 367.5,241.2 371.5,235.5 375.5,232.0 379.5,230.7 383.5,229.7 387.5,231.1 391.5,232.8 395.5,232.6 399.5,232.5 403.5,234.6 407.5,240.2 411.5,245.9 415.5,249.8 419.5,253.3 423.5,253.4 427.5,253.7 431.5,247.7 435.5,243.3 439.5,239.2 443.5,232.8 447.5,228.1 451.5,226.1 455.5,223.7 459.5,222.6 463.5,219.3 467.5,218.3 471.5,218.2 475.5,223.2 479.5,230.9 483.5,237.0 487.5,247.4 491.5,256.6 495.5,265.3 499.5,275.0 503.5,282.7 507.5,287.2 511.5,292.4 515.5,294.3 519.5,297.0 523.5,299.4 527.5,298.8 531.5,293.3 535.5,288.3 539.5,285.3 543.5,281.8 547.5,275.7 551.5,270.2 555.5,265.2 559.5,260.5 563.5,255.7 567.5,248.0 571.5,241.0 575.5,230.4 579.5,219.8 583.5,210.3 587.5,197.8 591.5,185.3 595.5,172.5 599.5,160.5 603.5,150.0 607.5,139.6 611.5,129.7 615.5,120.5 619.5,110.8 623.5,104.7 627.5,101.1 631.5,99.8 635.5,96.6 639.5,93.5 643.5,96.4 647.5,101.3 651.5,107.2 655.5,115.6 659.5,122.1 663.5,129.1 667.5,134.7 671.5,138.6 675.5,143.8 679.5,149.4 683.5,152.8 687.5,158.0 691.5,168.3 695.5,180.1 699.5,188.3 703.5,193.6 707.5,195.7 711.5,193.8 715.5,195.0 719.5,199.7 723.5,206.2 727.5,217.6 731.5,229.0 735.5,238.0 739.5,250.1 743.5,263.8 747.5,271.5 751.5,279.0 755.5,284.9 759.5,290.6 763.5,298.9 767.5,304.6 771.5,309.6 775.5,310.7 779.5,309.9 783.5,309.8 787.5,316.8 791.5,327.3 795.5,337.1 799.5,346.2 803.5,355.8 807.5,363.0 811.5,372.7 815.5,384.7 819.5,393.3 823.5,400.5 827.5,408.8 831.5,416.8 835.5,426.7 839.5,427.2 843.5,420.9 847.5,410.4 851.5,399.3 855.5,389.4 859.5,379.7 863.5,375.5 867.5,370.8 871.5,365.2 875.5,360.0 879.5,360.4 883.5,362.0 887.5,364.0 891.5,365.1 895.5,370.8 899.5,374.4 903.5,380.2 907.5,381.8 911.5,378.2 915.5,376.5 919.5,371.9 923.5,368.4 927.5,362.6 931.5,361.4 935.5,364.2 939.5,364.2 943.5,371.6 947.5,376.0 951.5,380.8 955.5,387.9 959.5,395.5 963.5,407.6 967.5,422.9 971.5,433.5 975.5,444.9 979.5,453.2 983.5,462.9 987.5,469.5 991.5,470.1 995.5,473.1 999.5,465.9 1003.5,461.1 1007.5,461.4 1011.5,462.1 1015.5,457.8 1019.5,451.9 1023.5,444.2 1027.5,438.2 1031.5,427.4 1035.5,419.4 1039.5,411.8 1043.5,407.2 1047.5,407.4 1051.5,402.3 1055.5,398.8 1059.5,395.8 1063.5,384.7 1067.5,373.2 1071.5,364.1 1075.5,358.2 1079.5,352.4 1083.5,351.8 1087.5,350.5 1091.5,348.5 1095.5,344.5 1099.5,340.9 1103.5,334.2 1107.5,331.1 1111.5,330.0 1115.5,331.4 1119.5,332.1 1123.5,331.1 1127.5,331.0" fill="none" stroke="#ff0000" stroke-width="1" />
<polyline points="3.5,237.1 7.5,230.1 11.5,221.9 15.5,225.1 19.5,230.3 23.5,230.1 27.5,225.3 31.5,223.8 35.5,214.1 39.5,212.2 43.5,206.3 47.5,200.0 51.5,207.5 55.5,215.2 59.5,231.0 63.5,250.3 67.5,264.8 71.5,278.8 75.5,290.4 79.5,293.3 83.5,294.7 87.5,288.2 91.5,289.8 95.5,287.5 99.5,281.4 103.5,280.1 107.5,279.6 111.5,280.6 115.5,282.3 119.5,282.5 123.5,291.0 127.5,303.2 131.5,314.1 135.5,319.9 139.5,325.7 143.5,329.8 147.5,324.0 151.5,313.6 155.5,310.1 159.5,306.7 163.5,305.1 167.5,312.1 171.5,310.7 175.5,315.8 179.5,330.2 183.5,337.8 187.5,335.3 191.5,344.4 195.5,346.1 199.5,360.1 203.5,375.9 207.5,380.8 211.5,377.4 215.5,386.4 219.5,387.7 223.5,387.5 227.5,392.8 231.5,393.0 235.5,403.5 239.5,409.7 243.5,413.1 247.5,415.6 251.5,418.9 255.5,408.9 259.5,397.4 263.5,371.8 267.5,358.3 271.5,344.5 275.5,328.0 279.5,310.8 283.5,302.2 287.5,295.5 291.5,297.2 295.5,300.4 299.5,305.2 303.5,308.7 307.5,312.8 311.5,313.1 315.5,313.4 319.5,310.1 323.5,303.5 327.5,293.4 331.5,284.0 335.5,273.1 339.5,265.8 343.5,260.7 347.5,250.2 351.5,240.1 355.5,228.8 359.5,225.6 363.5,222.6 367.5,216.7 371.5,210.3 375.5,213.8 379.5,221.2 383.5,230.5 387.5,236.6 391.5,242.9 395.5,248.5 399.5,254.6 403.5,255.4 407.5,259.1 411.5,261.4 415.5,263.0 419.5,263.7 423.5,258.3 427.5,252.7 431.5,240.0 435.5,227.5 439.5,217.0 443.5,202.7 447.5,192.5 451.5,194.0 455.5,194.6 459.5,205.2 463.5,211.1 467.5,219.5 471.5,233.6 475.5,254.0 479.5,267.9 483.5,279.3 487.5,289.6 491.5,302.1 495.5,311.2 499.5,316.3 503.5,311.5 507.5,306.5 511.5,305.5 515.5,299.0 519.5,291.8 523.5,287.7 527.5,281.2 531.5,275.1 535.5,270.0 539.5,265.1 543.5,264.7 547.5,259.5 551.5,252.7 555.5,249.2 559.5,245.9 563.5,241.3 567.5,230.9 571.5,217.3 575.5,201.3 579.5,186.9 583.5,171.4 587.5,149.7 591.5,129.3 595.5,114.1 599.5,103.8 603.5,98.7 607.5,92.3 611.5,87.9 615.5,91.3 619.5,92.4 623.5,95.4 627.5,98.4 631.5,101.0 635.5,100.8 639.5,99.1 643.5,101.6 647.5,110.2 651.5,119.0 655.5,132.7 659.5,143.3 663.5,157.4 667.5,170.2 671.5,175.5 675.5,177.5 679.5,179.9 683.5,172.9 687.5,172.8 691.5,179.2 695.5,189.9 699.5,201.1 703.5,209.6 707.5,211.4 711.5,214.7 715.5,217.2 719.5,220.2 723.5,222.5 727.5,234.1 731.5,248.4 735.5,264.6 739.5,285.5 743.5,310.4 747.5,322.9 751.5,335.5 755.5,335.7 759.5,332.7 763.5,333.1 767.5,323.6 771.5,308.7 775.5,298.6 779.5,284.4 783.5,283.9 787.5,301.0 791.5,321.6 795.5,350.6 799.5,383.7 803.5,413.0 807.5,441.6 811.5,461.5 815.5,468.5 819.5,465.0 823.5,450.4 827.5,434.0 831.5,420.6 835.5,411.7 839.5,392.9 843.5,373.4 847.5,355.8 851.5,348.2 855.5,344.7 859.5,338.8 863.5,339.3 867.5,348.7 871.5,357.0 875.5,364.3 879.5,372.6 883.5,379.3 887.5,389.2 891.5,390.9 895.5,392.9 899.5,391.8 903.5,396.2 907.5,391.1 911.5,377.1 915.5,363.7 919.5,353.0 923.5,343.9 927.5,333.4 931.5,326.6 935.5,337.3 939.5,351.2 943.5,379.4 947.5,399.0 951.5,417.7 955.5,442.4 959.5,464.4 963.5,477.8 967.5,494.6 971.5,487.6 975.5,490.7 979.5,488.7 983.5,483.5 987.5,474.6 991.5,462.4 995.5,451.7 999.5,444.3 1003.5,431.5 1007.5,434.2 1011.5,440.6 1015.5,441.0 1019.5,441.3 1023.5,436.8 1027.5,432.1 1031.5,423.3 1035.5,404.7 1039.5,382.9 1043.5,373.3 1047.5,373.6 1051.5,367.7 1055.5,365.4 1059.5,368.3 1063.5,364.6 1067.5,363.5 1071.5,354.9 1075.5,342.9 1079.5,337.0 1083.5,338.2 1087.5,332.6 1091.5,332.4 1095.5,325.6 1099.5,326.9 1103.5,325.5 1107.5,325.1 1111.5,321.7 1115.5,330.1 1119.5,331.8 1123.5,336.6 1127.5,335.2" fill="none" stroke="#0000cd" stroke-width="1" />
<rect x="3" y="151" width="1415" height="3" fill="#ff0000"/>
<rect x="3" y="246" width="1415" height="3" fill="#ff0000"/>
<rect x="3" y="306" width="1415" height="3" fill="#00ff00"/>
<rect x="3" y="427" width="1415" height="3" fill="#0000ff"/>
<rect x="3" y="514" width="1415" height="3" fill="#0000ff"/>
</g>
<rect x="3" y="575" width="1" height="39" fill="#c0c0c0"/>
<rect x="7" y="577" width="1" height="37" fill="#c0c0c0"/>
<rect x="11" y="577" width="1" height="37" fill="#c0c0c0"/>
<rect x="15" y="580" width="1" height="34" fill="#c0c0c0"/>
<rect x="19" y="582" width="1" height="32" fill="#c0c0c0"/>
<rect x="23" y="582" width="1" height="32" fill="#c0c0c0"/>
<rect x="27" y="582" width="1" height="32" fill="#c0c0c0"/>
<rect x="31" y="582" width="1" height="32" fill="#c0c0c0"/>
<rect x="35" y="580" width="1" height="34" fill="#c0c0c0"/>
<rect x="39" y="582" width="1" height="32" fill="#c0c0c0"/>
<rect x="43" y="583" width="1" height="31" fill="#c0c0c0"/>
<rect x="47" y="584" width="1" height="30" fill="#c0c0c0"/>
<rect x="51" y="589" width="1" height="25" fill="#c0c0c0"/>
<rect x="55" y="594" width="1" height="20" fill="#c0c0c0"/>
<rect x="59" y="601" width="1" height="13" fill="#c0c0c0"/>
<rect x="63" y="606" width="1" height="8" fill="#c0c0c0"/>
<rect x="67" y="610" width="1" height="4" fill="#c0c0c0"/>
<rect x="71" y="613" width="1" height="1" fill="#c0c0c0"/>
<rect x="75" y="613" width="1" height="2" fill="#c0c0c0"/>
<rect x="79" y="613" width="1" height="3" fill="#c0c0c0"/>
<rect x="83" y="613" width="1" height="3" fill="#c0c0c0"/>
<rect x="87" y="613" width="1" height="3" fill="#c0c0c0"/>
<rect x="91" y="613" width="1" height="6" fill="#c0c0c0"/>
<rect x="95" y="613" width="1" height="6" fill="#c0c0c0"/>
<rect x="99" y="613" width="1" height="5" fill="#c0c0c0"/>
<rect x="103" y="613" width="1" height="4" fill="#c0c0c0"/>
<rect x="107" y="613" width="1" height="4" fill="#c0c0c0"/>
<rect x="111" y="613" width="1" height="4" fill="#c0c0c0"/>
<rect x="115" y="613" width="1" height="4" fill="#c0c0c0"/>
<rect x="119" y="613" width="1" height="6" fill="#c0c0c0"/>
<rect x="123" y="613" width="1" height="10" fill="#c0c0c0"/>
<rect x="127" y="613" width="1" height="13" fill="#c0c0c0"/>
<rect x="131" y="613" width="1" height="15" fill="#c0c0c0"/>
<rect x="135" y="613" width="1" height="15" fill="#c0c0c0"/>
<rect x="139" y="613" width="1" height="14" fill="#c0c0c0"/>
<rect x="143" y="613" width="1" height="13" fill="#c0c0c0"/>
<rect x="147" y="613" width="1" height="10" fill="#c0c0c0"/>
<rect x="151" y="613" width="1" height="8" fill="#c0c0c0"/>
<rect x="155" y="613" width="1" height="8" fill="#c0c0c0"/>
<rect x="159" y="613" width="1" height="9" fill="#c0c0c0"/>
<rect x="163" y="613" width="1" height="8" fill="#c0c0c0"/>
<rect x="167" y="613" width="1" height="12" fill="#c0c0c0"/>
<rect x="171" y="613" width="1" height="10" fill="#c0c0c0"/>
<rect x="175" y="613" width="1" height="9" fill="#c0c0c0"/>
<rect x="179" y="613" width="1" height="13" fill="#c0c0c0"/>
<rect x="183" y="613" width="1" height="15" fill="#c0c0c0"/>
<rect x="187" y="613" width="1" height="12" fill="#c0c0c0"/>
<rect x="191" y="613" width="1" height="14" fill="#c0c0c0"/>
<rect x="195" y="613" width="1" height="16" fill="#c0c0c0"/>
<rect x="199" y="613" width="1" height="19" fill="#c0c0c0"/>
<rect x="203" y="613" width="1" height="22" fill="#c0c0c0"/>
<rect x="207" y="613" width="1" height="24" fill="#c0c0c0"/>
<rect x="211" y="613" width="1" height="21" fill="#c0c0c0"/>
<rect x="215" y="613" width="1" height="20" fill="#c0c0c0"/>
<rect x="219" y="613" width="1" height="19" fill="#c0c0c0"/>
<rect x="223" y="613" width="1" height="19" fill="#c0c0c0"/>
<rect x="227" y="613" width="1" height="22" fill="#c0c0c0"/>
<rect x="231" y="613" width="1" height="23" fill="#c0c0c0"/>
<rect x="235" y="613" width="1" height="28" fill="#c0c0c0"/>
<rect x="239" y="613" width="1" height="25" fill="#c0c0c0"/>
<rect x="243" y="613" width="1" height="23" fill="#c0c0c0"/>
<rect x="247" y="613" width="1" height="21" fill="#c0c0c0"/>
<rect x="251" y="613" width="1" height="20" fill="#c0c0c0"/>
<rect x="255" y="613" width="1" height="16" fill="#c0c0c0"/>
<rect x="259" y="613" width="1" height="12" fill="#c0c0c0"/>
<rect x="263" y="613" width="1" height="6" fill="#c0c0c0"/>
<rect x="267" y="612" width="1" height="2" fill="#c0c0c0"/>
<rect x="271" y="608" width="1" height="6" fill="#c0c0c0"/>
<rect x="275" y="604" width="1" height="10" fill="#c0c0c0"/>
<rect x="279" y="601" width="1" height="13" fill="#c0c0c0"/>
<rect x="283" y="600" width="1" height="14" fill="#c0c0c0"/>
<rect x="287" y="599" width="1" height="15" fill="#c0c0c0"/>
<rect x="291" y="599" width="1" height="15" fill="#c0c0c0"/>
<rect x="295" y="600" width="1" height="14" fill="#c0c0c0"/>
<rect x="299" y="602" width="1" height="12" fill="#c0c0c0"/>
<rect x="303" y="601" width="1" height="13" fill="#c0c0c0"/>
<rect x="307" y="602" width="1" height="12" fill="#c0c0c0"/>
<rect x="311" y="602" width="1" height="12" fill="#c0c0c0"/>
<rect x="315" y="601" width="1" height="13" fill="#c0c0c0"/>
<rect x="319" y="601" width="1" height="13" fill="#c0c0c0"/>
<rect x="323" y="599" width="1" height="15" fill="#c0c0c0"/>
<rect x="327" y="597" width="1" height="17" fill="#c0c0c0"/>
<rect x="331" y="595" width="1" height="19" fill="#c0c0c0"/>
<rect x="335" y="592" width="1" height="22" fill="#c0c0c0"/>
<rect x="339" y="592" width="1" height="22" fill="#c0c0c0"/>
<rect x="343" y="593" width="1" height="21" fill="#c0c0c0"/>
<rect x="347" y="591" width="1" height="23" fill="#c0c0c0"/>
<rect x="351" y="588" width="1" height="26" fill="#c0c0c0"/>
<rect x="355" y="585" width="1" height="29" fill="#c0c0c0"/>
<rect x="359" y="585" width="1" height="29" fill="#c0c0c0"/>
<rect x="363" y="586" width="1" height="28" fill="#c0c0c0"/>
<rect x="367" y="586" width="1" height="28" fill="#c0c0c0"/>
<rect x="371" y="587" width="1" height="27" fill="#c0c0c0"/>
<rect x="375" y="590" width="1" height="24" fill="#c0c0c0"/>
<rect x="379" y="593" width="1" height="21" fill="#c0c0c0"/>
<rect x="383" y="595" width="1" height="19" fill="#c0c0c0"/>
<rect x="387" y="598" width="1" height="16" fill="#c0c0c0"/>
<rect x="391" y="600" width="1" height="14" fill="#c0c0c0"/>
<rect x="395" y="602" width="1" height="12" fill="#c0c0c0"/>
<rect x="399" y="604" width="1" height="10" fill="#c0c0c0"/>
<rect x="403" y="605" width="1" height="9" fill="#c0c0c0"/>
<rect x="407" y="607" width="1" height="7" fill="#c0c0c0"/>
<rect x="411" y="608" width="1" height="6" fill="#c0c0c0"/>
<rect x="415" y="610" width="1" height="4" fill="#c0c0c0"/>
<rect x="419" y="610" width="1" height="4" fill="#c0c0c0"/>
<rect x="423" y="608" width="1" height="6" fill="#c0c0c0"/>
<rect x="427" y="606" width="1" height="8" fill="#c0c0c0"/>
<rect x="431" y="601" width="1" height="13" fill="#c0c0c0"/>
<rect x="435" y="600" width="1" height="14" fill="#c0c0c0"/>
<rect x="439" y="598" width="1" height="16" fill="#c0c0c0"/>
<rect x="443" y="595" width="1" height="19" fill="#c0c0c0"/>
<rect x="447" y="595" width="1" height="19" fill="#c0c0c0"/>
<rect x="451" y="598" width="1" height="16" fill="#c0c0c0"/>
<rect x="455" y="600" width="1" height="14" fill="#c0c0c0"/>
<rect x="459" y="602" width="1" height="12" fill="#c0c0c0"/>
<rect x="463" y="604" width="1" height="10" fill="#c0c0c0"/>
<rect x="467" y="606" width="1" height="8" fill="#c0c0c0"/>
<rect x="471" y="610" width="1" height="4" fill="#c0c0c0"/>
<rect x="475" y="613" width="1" height="5" fill="#c0c0c0"/>
<rect x="479" y="613" width="1" height="10" fill="#c0c0c0"/>
<rect x="483" y="613" width="1" height="12" fill="#c0c0c0"/>
<rect x="487" y="613" width="1" height="14" fill="#c0c0c0"/>
<rect x="491" y="613" width="1" height="16" fill="#c0c0c0"/>
<rect x="495" y="613" width="1" height="17" fill="#c0c0c0"/>
<rect x="499" y="613" width="1" height="17" fill="#c0c0c0"/>
<rect x="503" y="613" width="1" height="17" fill="#c0c0c0"/>
<rect x="507" y="613" width="1" height="16" fill="#c0c0c0"/>
<rect x="511" y="613" width="1" height="15" fill="#c0c0c0"/>
<rect x="515" y="613" width="1" height="12" fill="#c0c0c0"/>
<rect x="519" y="613" width="1" height="10" fill="#c0c0c0"/>
<rect x="523" y="613" width="1" height="9" fill="#c0c0c0"/>
<rect x="527" y="613" width="1" height="7" fill="#c0c0c0"/>
<rect x="531" y="613" width="1" height="5" fill="#c0c0c0"/>
<rect x="535" y="613" width="1" height="4" fill="#c0c0c0"/>
<rect x="539" y="613" width="1" height="3" fill="#c0c0c0"/>
<rect x="543" y="613" width="1" height="2" fill="#c0c0c0"/>
<rect x="547" y="612" width="1" height="2" fill="#c0c0c0"/>
<rect x="551" y="610" width="1" height="4" fill="#c0c0c0"/>
<rect x="555" y="608" width="1" height="6" fill="#c0c0c0"/>
<rect x="559" y="607" width="1" height="7" fill="#c0c0c0"/>
<rect x="563" y="606" width="1" height="8" fill="#c0c0c0"/>
<rect x="567" y="602" width="1" height="12" fill="#c0c0c0"/>
<rect x="571" y="598" width="1" height="16" fill="#c0c0c0"/>
<rect x="575" y="593" width="1" height="21" fill="#c0c0c0"/>
<rect x="579" y="589" width="1" height="25" fill="#c0c0c0"/>
<rect x="583" y="586" width="1" height="28" fill="#c0c0c0"/>
<rect x="587" y="581" width="1" height="33" fill="#c0c0c0"/>
<rect x="591" y="577" width="1" height="37" fill="#c0c0c0"/>
<rect x="595" y="575" width="1" height="39" fill="#c0c0c0"/>
<rect x="599" y="574" width="1" height="40" fill="#c0c0c0"/>
<rect x="603" y="574" width="1" height="40" fill="#c0c0c0"/>
<rect x="607" y="574" width="1" height="40" fill="#c0c0c0"/>
<rect x="611" y="575" width="1" height="39" fill="#c0c0c0"/>
<rect x="615" y="577" width="1" height="37" fill="#c0c0c0"/>
<rect x="619" y="578" width="1" height="36" fill="#c0c0c0"/>
<rect x="623" y="580" width="1" height="34" fill="#c0c0c0"/>
<rect x="627" y="582" width="1" height="32" fill="#c0c0c0"/>
<rect x="631" y="584" width="1" height="30" fill="#c0c0c0"/>
<rect x="635" y="585" width="1" height="29" fill="#c0c0c0"/>
<rect x="639" y="585" width="1" height="29" fill="#c0c0c0"/>
<rect x="643" y="589" width="1" height="25" fill="#c0c0c0"/>
<rect x="647" y="593" width="1" height="21" fill="#c0c0c0"/>
<rect x="651" y="598" width="1" height="16" fill="#c0c0c0"/>
<rect x="655" y="605" width="1" height="9" fill="#c0c0c0"/>
<rect x="659" y="609" width="1" height="5" fill="#c0c0c0"/>
<rect x="663" y="612" width="1" height="2" fill="#c0c0c0"/>
<rect x="667" y="613" width="1" height="1" fill="#c0c0c0"/>
<rect x="671" y="613" width="1" height="2" fill="#c0c0c0"/>
<rect x="675" y="613" width="1" height="2" fill="#c0c0c0"/>
<rect x="679" y="613" width="1" height="4" fill="#c0c0c0"/>
<rect x="683" y="613" width="1" height="4" fill="#c0c0c0"/>
<rect x="687" y="613" width="1" height="5" fill="#c0c0c0"/>
<rect x="691" y="613" width="1" height="9" fill="#c0c0c0"/>
<rect x="695" y="613" width="1" height="13" fill="#c0c0c0"/>
<rect x="699" y="613" width="1" height="16" fill="#c0c0c0"/>
<rect x="703" y="613" width="1" height="17" fill="#c0c0c0"/>
<rect x="707" y="613" width="1" height="16" fill="#c0c0c0"/>
<rect x="711" y="613" width="1" height="14" fill="#c0c0c0"/>
<rect x="715" y="613" width="1" height="13" fill="#c0c0c0"/>
<rect x="719" y="613" width="1" height="16" fill="#c0c0c0"/>
<rect x="723" y="613" width="1" height="18" fill="#c0c0c0"/>
<rect x="727" y="613" width="1" height="24" fill="#c0c0c0"/>
<rect x="731" y="613" width="1" height="29" fill="#c0c0c0"/>
<rect x="735" y="613" width="1" height="31" fill="#c0c0c0"/>
<rect x="739" y="613" width="1" height="34" fill="#c0c0c0"/>
<rect x="743" y="613" width="1" height="38" fill="#c0c0c0"/>
<rect x="747" y="613" width="1" height="39" fill="#c0c0c0"/>
<rect x="751" y="613" width="1" height="40" fill="#c0c0c0"/>
<rect x="755" y="613" width="1" height="39" fill="#c0c0c0"/>
<rect x="759" y="613" width="1" height="36" fill="#c0c0c0"/>
<rect x="763" y="613" width="1" height="34" fill="#c0c0c0"/>
<rect x="767" y="613" width="1" height="29" fill="#c0c0c0"/>
<rect x="771" y="613" width="1" height="25" fill="#c0c0c0"/>
<rect x="775" y="613" width="1" height="21" fill="#c0c0c0"/>
<rect x="779" y="613" width="1" height="17" fill="#c0c0c0"/>
<rect x="783" y="613" width="1" height="18" fill="#c0c0c0"/>
<rect x="787" y="613" width="1" height="26" fill="#c0c0c0"/>
<rect x="791" y="613" width="1" height="33" fill="#c0c0c0"/>
<rect x="795" y="613" width="1" height="40" fill="#c0c0c0"/>
<rect x="799" y="613" width="1" height="47" fill="#c0c0c0"/>
<rect x="803" y="613" width="1" height="50" fill="#c0c0c0"/>
<rect x="807" y="613" width="1" height="50" fill="#c0c0c0"/>
<rect x="811" y="613" width="1" height="50" fill="#c0c0c0"/>
<rect x="815" y="613" width="1" height="50" fill="#c0c0c0"/>
<rect x="819" y="613" width="1" height="48" fill="#c0c0c0"/>
<rect x="823" y="613" width="1" height="41" fill="#c0c0c0"/>
<rect x="827" y="613" width="1" height="36" fill="#c0c0c0"/>
<rect x="831" y="613" width="1" height="32" fill="#c0c0c0"/>
<rect x="835" y="613" width="1" height="28" fill="#c0c0c0"/>
<rect x="839" y="613" width="1" height="21" fill="#c0c0c0"/>
<rect x="843" y="613" width="1" height="16" fill="#c0c0c0"/>
<rect x="847" y="613" width="1" height="10" fill="#c0c0c0"/>
<rect x="851" y="613" width="1" height="6" fill="#c0c0c0"/>
<rect x="855" y="613" width="1" height="5" fill="#c0c0c0"/>
<rect x="859" y="613" width="1" height="4" fill="#c0c0c0"/>
<rect x="863" y="613" width="1" height="6" fill="#c0c0c0"/>
<rect x="867" y="613" width="1" height="7" fill="#c0c0c0"/>
<rect x="871" y="613" width="1" height="8" fill="#c0c0c0"/>
<rect x="875" y="613" width="1" height="7" fill="#c0c0c0"/>
<rect x="879" y="613" width="1" height="7" fill="#c0c0c0"/>
<rect x="883" y="613" width="1" height="9" fill="#c0c0c0"/>
<rect x="887" y="613" width="1" height="10" fill="#c0c0c0"/>
<rect x="891" y="613" width="1" height="11" fill="#c0c0c0"/>
<rect x="895" y="613" width="1" height="12" fill="#c0c0c0"/>
<rect x="899" y="613" width="1" height="11" fill="#c0c0c0"/>
<rect x="903" y="613" width="1" height="10" fill="#c0c0c0"/>
<rect x="907" y="613" width="1" height="6" fill="#c0c0c0"/>
<rect x="911" y="613" width="1" height="1" fill="#c0c0c0"/>
<rect x="915" y="610" width="1" height="4" fill="#c0c0c0"/>
<rect x="919" y="608" width="1" height="6" fill="#c0c0c0"/>
<rect x="923" y="607" width="1" height="7" fill="#c0c0c0"/>
<rect x="927" y="605" width="1" height="9" fill="#c0c0c0"/>
<rect x="931" y="605" width="1" height="9" fill="#c0c0c0"/>
<rect x="935" y="610" width="1" height="4" fill="#c0c0c0"/>
<rect x="939" y="613" width="1" height="2" fill="#c0c0c0"/>
<rect x="943" y="613" width="1" height="11" fill="#c0c0c0"/>
<rect x="947" y="613" width="1" height="16" fill="#c0c0c0"/>
<rect x="951" y="613" width="1" height="20" fill="#c0c0c0"/>
<rect x="955" y="613" width="1" height="23" fill="#c0c0c0"/>
<rect x="959" y="613" width="1" height="26" fill="#c0c0c0"/>
<rect x="963" y="613" width="1" height="29" fill="#c0c0c0"/>
<rect x="967" y="613" width="1" height="32" fill="#c0c0c0"/>
<rect x="971" y="613" width="1" height="30" fill="#c0c0c0"/>
<rect x="975" y="613" width="1" height="30" fill="#c0c0c0"/>
<rect x="979" y="613" width="1" height="28" fill="#c0c0c0"/>
<rect x="983" y="613" width="1" height="25" fill="#c0c0c0"/>
<rect x="987" y="613" width="1" height="21" fill="#c0c0c0"/>
<rect x="991" y="613" width="1" height="18" fill="#c0c0c0"/>
<rect x="995" y="613" width="1" height="16" fill="#c0c0c0"/>
<rect x="999" y="613" width="1" height="13" fill="#c0c0c0"/>
<rect x="1003" y="613" width="1" height="9" fill="#c0c0c0"/>
<rect x="1007" y="613" width="1" height="11" fill="#c0c0c0"/>
<rect x="1011" y="613" width="1" height="13" fill="#c0c0c0"/>
<rect x="1015" y="613" width="1" height="12" fill="#c0c0c0"/>
<rect x="1019" y="613" width="1" height="9" fill="#c0c0c0"/>
<rect x="1023" y="613" width="1" height="7" fill="#c0c0c0"/>
<rect x="1027" y="613" width="1" height="2" fill="#c0c0c0"/>
<rect x="1031" y="608" width="1" height="6" fill="#c0c0c0"/>
<rect x="1035" y="604" width="1" height="10" fill="#c0c0c0"/>
<rect x="1039" y="600" width="1" height="14" fill="#c0c0c0"/>
<rect x="1043" y="599" width="1" height="15" fill="#c0c0c0"/>
<rect x="1047" y="602" width="1" height="12" fill="#c0c0c0"/>
<rect x="1051" y="602" width="1" height="12" fill="#c0c0c0"/>
<rect x="1055" y="601" width="1" height="13" fill="#c0c0c0"/>
<rect x="1059" y="600" width="1" height="14" fill="#c0c0c0"/>
<rect x="1063" y="597" width="1" height="17" fill="#c0c0c0"/>
<rect x="1067" y="595" width="1" height="19" fill="#c0c0c0"/>
<rect x="1071" y="593" width="1" height="21" fill="#c0c0c0"/>
<rect x="1075" y="593" width="1" height="21" fill="#c0c0c0"/>
<rect x="1079" y="593" width="1" height="21" fill="#c0c0c0"/>
<rect x="1083" y="596" width="1" height="18" fill="#c0c0c0"/>
<rect x="1087" y="594" width="1" height="20" fill="#c0c0c0"/>
<rect x="1091" y="594" width="1" height="20" fill="#c0c0c0"/>
<rect x="1095" y="591" width="1" height="23" fill="#c0c0c0"/>
<rect x="1099" y="592" width="1" height="22" fill="#c0c0c0"/>
<rect x="1103" y="593" width="1" height="21" fill="#c0c0c0"/>
<rect x="1107" y="595" width="1" height="19" fill="#c0c0c0"/>
<rect x="1111" y="597" width="1" height="17" fill="#c0c0c0"/>
<rect x="1115" y="601" width="1" height="13" fill="#c0c0c0"/>
<rect x="1119" y="601" width="1" height="13" fill="#c0c0c0"/>
<rect x="1123" y="600" width="1" height="14" fill="#c0c0c0"/>
<rect x="1127" y="600" width="1" height="14" fill="#c0c0c0"/>
<polyline points="3.5,576.2 7.5,576.3 11.5,576.4 15.5,576.9 19.5,577.6 23.5,578.2 27.5,578.9 31.5,579.6 35.5,580.1 39.5,580.9 43.5,581.6 47.5,582.4 51.5,583.5 55.5,584.8 59.5,587.0 63.5,589.6 67.5,592.8 71.5,596.4 75.5,600.0 79.5,603.5 83.5,606.9 87.5,609.7 91.5,612.4 95.5,614.3 99.5,615.4 103.5,616.1 107.5,616.3 111.5,616.5 115.5,616.6 119.5,617.0 123.5,617.8 127.5,618.7 131.5,619.7 135.5,620.8 139.5,621.9 143.5,623.0 147.5,623.7 151.5,624.1 155.5,624.3 159.5,624.2 163.5,623.6 167.5,623.3 171.5,622.8 175.5,622.2 179.5,622.1 183.5,622.7 187.5,623.3 191.5,623.9 195.5,624.8 199.5,626.0 203.5,627.1 207.5,628.7 211.5,630.1 215.5,630.9 219.5,631.3 223.5,632.0 227.5,632.8 231.5,633.6 235.5,634.5 239.5,634.9 243.5,634.7 247.5,634.7 251.5,634.7 255.5,634.4 259.5,633.6 263.5,631.8 267.5,629.3 271.5,625.8 275.5,622.1 279.5,618.2 283.5,614.6 287.5,610.9 291.5,607.7 295.5,605.1 299.5,603.3 303.5,602.1 307.5,601.3 311.5,601.1 315.5,601.2 319.5,601.3 323.5,601.4 327.5,601.2 331.5,600.5 335.5,599.5 339.5,598.5 343.5,597.5 347.5,596.3 351.5,594.9 355.5,593.1 359.5,591.6 363.5,590.3 367.5,589.4 371.5,588.8 375.5,588.5 379.5,588.6 383.5,589.1 387.5,590.1 391.5,591.8 395.5,593.6 399.5,595.6 403.5,597.7 407.5,599.9 411.5,601.9 415.5,603.7 419.5,605.4 423.5,606.5 427.5,607.2 431.5,607.1 435.5,606.6 439.5,605.9 443.5,604.5 447.5,603.1 451.5,601.8 455.5,600.6 459.5,600.0 463.5,599.8 467.5,600.4 471.5,601.5 475.5,603.6 479.5,606.5 483.5,609.7 487.5,612.8 491.5,616.0 495.5,618.9 499.5,621.7 503.5,624.2 507.5,626.1 511.5,627.3 515.5,627.6 519.5,627.4 523.5,626.9 527.5,625.9 531.5,624.6 535.5,623.1 539.5,621.5 543.5,620.0 547.5,618.3 551.5,616.6 555.5,615.0 559.5,613.4 563.5,611.9 567.5,610.3 571.5,608.4 575.5,605.9 579.5,603.2 583.5,600.3 587.5,597.1 591.5,593.7 595.5,590.2 599.5,586.7 603.5,583.6 607.5,580.9 611.5,578.9 615.5,577.6 619.5,576.7 623.5,576.6 627.5,577.2 631.5,578.2 635.5,579.3 639.5,580.6 643.5,582.2 647.5,584.2 651.5,586.6 655.5,589.6 659.5,592.8 663.5,596.1 667.5,599.3 671.5,602.5 675.5,605.8 679.5,608.8 683.5,611.4 687.5,613.5 691.5,615.3 695.5,617.2 699.5,619.0 703.5,620.7 707.5,622.2 711.5,623.5 715.5,624.5 719.5,625.7 723.5,627.2 727.5,628.9 731.5,630.5 735.5,632.2 739.5,634.0 743.5,636.5 747.5,639.3 751.5,642.3 755.5,644.9 759.5,646.8 763.5,647.9 767.5,647.9 771.5,647.2 775.5,645.9 779.5,643.5 783.5,641.2 787.5,639.6 791.5,639.0 795.5,639.5 799.5,640.9 803.5,643.2 807.5,646.0 811.5,649.3 815.5,653.0 819.5,656.2 823.5,657.9 827.5,658.2 831.5,657.3 835.5,655.2 839.5,652.1 843.5,648.3 847.5,643.9 851.5,639.0 855.5,634.3 859.5,630.2 863.5,626.8 867.5,624.1 871.5,621.9 875.5,620.3 879.5,619.3 883.5,619.1 887.5,619.6 891.5,620.2 895.5,621.2 899.5,621.7 903.5,622.1 907.5,621.8 911.5,621.2 915.5,620.1 919.5,618.7 923.5,617.1 927.5,615.0 931.5,613.0 935.5,611.6 939.5,610.6 943.5,611.1 947.5,612.7 951.5,615.2 955.5,618.2 959.5,621.6 963.5,625.6 967.5,629.9 971.5,633.4 975.5,636.6 979.5,638.4 983.5,639.5 987.5,639.7 991.5,639.1 995.5,638.0 999.5,636.1 1003.5,633.5 1007.5,631.4 1011.5,629.5 1015.5,627.7 1019.5,626.0 1023.5,624.3 1027.5,622.6 1031.5,620.3 1035.5,618.0 1039.5,615.8 1043.5,613.1 1047.5,610.6 1051.5,608.2 1055.5,606.0 1059.5,603.9 1063.5,601.9 1067.5,600.5 1071.5,599.2 1075.5,598.4 1079.5,597.7 1083.5,596.9 1087.5,596.1 1091.5,595.3 1095.5,594.4 1099.5,593.8 1103.5,593.6 1107.5,593.9 1111.5,594.3 1115.5,595.2 1119.5,595.8 1123.5,596.5 1127.5,597.2" fill="none" stroke="#ff0000" stroke-width="1" stroke-dasharray="3 3"/>
<line x1="4" y1="711.5" x2="1418" y2="711.5" stroke="#c0c0c0" stroke-width="1" stroke-dasharray="3 3"/>
<line x1="4" y1="762.5" x2="1418" y2="762.5" stroke="#c0c0c0" stroke-width="1" stroke-dasharray="3 3"/>
<polyline points="3.5,716.6 7.5,722.9 11.5,719.9 15.5,727.8 19.5,726.6 23.5,720.1 27.5,720.9 31.5,720.2 35.5,713.8 39.5,725.1 43.5,725.0 47.5,723.4 51.5,739.2 55.5,740.0 59.5,750.1 63.5,746.9 67.5,747.7 71.5,746.6 75.5,740.3 79.5,740.4 83.5,738.4 87.5,737.7 91.5,748.6 95.5,741.8 99.5,734.3 103.5,736.7 107.5,738.0 111.5,739.2 115.5,739.7 119.5,748.3 123.5,755.3 127.5,753.5 131.5,753.8 135.5,743.7 139.5,744.9 143.5,741.8 147.5,731.7 151.5,732.5 155.5,743.9 159.5,744.4 163.5,739.2 167.5,753.0 171.5,736.7 175.5,738.7 179.5,750.1 183.5,749.2 187.5,735.7 191.5,745.4 195.5,747.3 199.5,749.6 203.5,752.5 207.5,750.5 211.5,738.7 215.5,741.5 219.5,743.1 223.5,743.4 227.5,751.9 231.5,749.0 235.5,756.9 239.5,740.5 243.5,740.3 247.5,740.8 251.5,742.0 255.5,735.7 259.5,731.8 263.5,726.7 267.5,725.4 271.5,725.1 275.5,722.6 279.5,723.5 283.5,729.2 287.5,727.1 291.5,732.6 295.5,733.0 299.5,735.2 303.5,729.5 307.5,731.7 311.5,731.1 315.5,728.6 319.5,728.0 323.5,723.2 327.5,720.0 331.5,715.8 335.5,715.5 339.5,723.7 343.5,725.2 347.5,716.7 351.5,713.5 355.5,709.7 359.5,721.4 363.5,721.4 367.5,722.1 371.5,722.4 375.5,732.2 379.5,735.0 383.5,731.9 387.5,735.9 391.5,736.4 395.5,735.3 399.5,736.9 403.5,734.0 407.5,744.2 411.5,736.8 415.5,739.4 419.5,737.8 423.5,724.2 427.5,725.3 431.5,713.1 435.5,723.7 439.5,722.3 443.5,718.5 447.5,726.2 451.5,736.0 455.5,735.3 459.5,738.2 463.5,737.9 467.5,740.7 471.5,746.1 475.5,759.1 479.5,756.4 483.5,750.2 487.5,750.8 491.5,753.7 495.5,749.1 499.5,747.1 503.5,746.5 507.5,743.1 511.5,745.2 515.5,734.1 519.5,737.2 523.5,739.2 527.5,732.3 531.5,732.7 535.5,731.9 539.5,734.9 543.5,733.7 547.5,726.3 551.5,725.1 555.5,724.9 559.5,726.3 563.5,722.4 567.5,713.5 571.5,708.1 575.5,701.8 579.5,705.2 583.5,703.9 587.5,698.5 591.5,698.2 595.5,700.1 599.5,704.3 603.5,703.7 607.5,703.5 611.5,706.3 615.5,714.1 619.5,709.9 623.5,718.1 627.5,722.5 631.5,720.3 635.5,715.1 639.5,713.6 643.5,732.1 647.5,740.1 651.5,745.1 655.5,755.1 659.5,745.7 663.5,746.9 667.5,742.0 671.5,739.3 675.5,739.7 679.5,745.4 683.5,738.6 687.5,743.4 691.5,754.6 695.5,757.0 699.5,755.1 703.5,749.3 707.5,741.5 711.5,738.6 715.5,741.6 719.5,753.3 723.5,754.8 727.5,763.7 731.5,763.8 735.5,759.8 739.5,762.9 743.5,767.9 747.5,758.5 751.5,759.8 755.5,752.2 759.5,746.5 763.5,748.7 767.5,737.5 771.5,737.9 775.5,738.4 779.5,734.0 783.5,748.0 787.5,761.1 791.5,764.6 795.5,765.7 799.5,768.3 803.5,762.5 807.5,757.2 811.5,758.1 815.5,759.4 819.5,750.7 823.5,737.9 827.5,740.7 831.5,740.2 835.5,741.5 839.5,730.7 843.5,731.8 847.5,728.0 851.5,728.7 855.5,738.0 859.5,734.2 863.5,743.5 867.5,743.6 871.5,743.2 875.5,736.8 879.5,738.9 883.5,745.5 887.5,745.7 891.5,744.7 895.5,745.3 899.5,739.3 903.5,741.0 907.5,728.7 911.5,724.2 915.5,725.4 919.5,729.3 923.5,733.0 927.5,726.1 931.5,734.3 935.5,746.8 939.5,746.1 943.5,760.0 947.5,750.9 951.5,751.8 955.5,752.8 959.5,754.8 963.5,755.7 967.5,758.3 971.5,744.7 975.5,748.4 979.5,742.9 983.5,740.2 987.5,738.3 991.5,735.0 995.5,740.7 999.5,733.8 1003.5,731.5 1007.5,745.3 1011.5,747.0 1015.5,737.6 1019.5,734.7 1023.5,734.2 1027.5,728.1 1031.5,722.5 1035.5,724.7 1039.5,723.3 1043.5,730.1 1047.5,739.3 1051.5,731.9 1055.5,729.9 1059.5,729.2 1063.5,724.0 1067.5,725.6 1071.5,722.8 1075.5,728.8 1079.5,728.3 1083.5,735.7 1087.5,726.9 1091.5,727.5 1095.5,721.8 1099.5,729.7 1103.5,731.4 1107.5,732.3 1111.5,735.2 1115.5,741.1 1119.5,732.7 1123.5,729.7 1127.5,728.8" fill="none" stroke="#1e90ff" stroke-width="1"/>
<rect x="2" y="25" width="1417" height="1" fill="#000"/>
<rect x="2" y="564" width="1417" height="1" fill="#000"/>
<rect x="2" y="566" width="1417" height="1" fill="#000"/>
<rect x="2" y="669" width="1417" height="1" fill="#000"/>
<rect x="2" y="671" width="1417" height="1" fill="#000"/>
<rect x="2" y="801" width="1417" height="1" fill="#000"/>
<rect x="2" y="25" width="1" height="777" fill="#000"/>
<rect x="1418" y="25" width="1" height="777" fill="#000"/>
<rect x="3" y="802" width="1" height="3" fill="#000"/>
<rect x="67" y="802" width="1" height="3" fill="#000"/>
<rect x="131" y="802" width="1" height="3" fill="#000"/>
<rect x="195" y="802" width="1" height="3" fill="#000"/>
<rect x="259" y="802" width="1" height="3" fill="#000"/>
<rect x="323" y="802" width="1" height="3" fill="#000"/>
<rect x="387" y="802" width="1" height="3" fill="#000"/>
<rect x="451" y="802" width="1" height="3" fill="#000"/>
<rect x="515" y="802" width="1" height="3" fill="#000"/>
<rect x="579" y="802" width="1" height="3" fill="#000"/>
<rect x="643" y="802" width="1" height="3" fill="#000"/>
<rect x="707" y="802" width="1" height="3" fill="#000"/>
<rect x="771" y="802" width="1" height="3" fill="#000"/>
<rect x="835" y="802" width="1" height="3" fill="#000"/>
<rect x="899" y="802" width="1" height="3" fill="#000"/>
<rect x="963" y="802" width="1" height="3" fill="#000"/>
<rect x="1027" y="802" width="1" height="3" fill="#000"/>
<rect x="1091" y="802" width="1" height="3" fill="#000"/>
<g font-family="'Liberation Sans',sans-serif" font-size="9.5" fill="#000" shape-rendering="auto">
<rect x="1419" y="33" width="2" height="1" fill="#000" shape-rendering="crispEdges"/>
<text x="1424.6" y="37" textLength="32.2" lengthAdjust="spacingAndGlyphs">1.02580</text>
<rect x="1419" y="66" width="2" height="1" fill="#000" shape-rendering="crispEdges"/>
<text x="1424.6" y="70" textLength="32.2" lengthAdjust="spacingAndGlyphs">1.02200</text>
<rect x="1419" y="99" width="2" height="1" fill="#000" shape-rendering="crispEdges"/>
<text x="1424.6" y="103" textLength="32.2" lengthAdjust="spacingAndGlyphs">1.01820</text>
<rect x="1419" y="132" width="2" height="1" fill="#000" shape-rendering="crispEdges"/>
<text x="1424.6" y="136" textLength="32.2" lengthAdjust="spacingAndGlyphs">1.01440</text>
<rect x="1419" y="165" width="2" height="1" fill="#000" shape-rendering="crispEdges"/>
<text x="1424.6" y="169" textLength="32.2" lengthAdjust="spacingAndGlyphs">1.01050</text>
<rect x="1419" y="198" width="2" height="1" fill="#000" shape-rendering="crispEdges"/>
<text x="1424.6" y="202" textLength="32.2" lengthAdjust="spacingAndGlyphs">1.00670</text>
<rect x="1419" y="231" width="2" height="1" fill="#000" shape-rendering="crispEdges"/>
<text x="1424.6" y="235" textLength="32.2" lengthAdjust="spacingAndGlyphs">1.00290</text>
<rect x="1419" y="264" width="2" height="1" fill="#000" shape-rendering="crispEdges"/>
<text x="1424.6" y="268" textLength="32.2" lengthAdjust="spacingAndGlyphs">0.99910</text>
<rect x="1419" y="297" width="2" height="1" fill="#000" shape-rendering="crispEdges"/>
<text x="1424.6" y="301" textLength="32.2" lengthAdjust="spacingAndGlyphs">0.99530</text>
<rect x="1419" y="330" width="2" height="1" fill="#000" shape-rendering="crispEdges"/>
<text x="1424.6" y="334" textLength="32.2" lengthAdjust="spacingAndGlyphs">0.99140</text>
<rect x="1419" y="363" width="2" height="1" fill="#000" shape-rendering="crispEdges"/>
<text x="1424.6" y="367" textLength="32.2" lengthAdjust="spacingAndGlyphs">0.98760</text>
<rect x="1419" y="396" width="2" height="1" fill="#000" shape-rendering="crispEdges"/>
<text x="1424.6" y="400" textLength="32.2" lengthAdjust="spacingAndGlyphs">0.98380</text>
<rect x="1419" y="429" width="2" height="1" fill="#000" shape-rendering="crispEdges"/>
<text x="1424.6" y="433" textLength="32.2" lengthAdjust="spacingAndGlyphs">0.98000</text>
<rect x="1419" y="462" width="2" height="1" fill="#000" shape-rendering="crispEdges"/>
<text x="1424.6" y="466" textLength="32.2" lengthAdjust="spacingAndGlyphs">0.97610</text>
<rect x="1419" y="495" width="2" height="1" fill="#000" shape-rendering="crispEdges"/>
<text x="1424.6" y="499" textLength="32.2" lengthAdjust="spacingAndGlyphs">0.97230</text>
<rect x="1419" y="528" width="2" height="1" fill="#000" shape-rendering="crispEdges"/>
<text x="1424.6" y="532" textLength="32.2" lengthAdjust="spacingAndGlyphs">0.96850</text>
<rect x="1419" y="561" width="2" height="1" fill="#000" shape-rendering="crispEdges"/>
<text x="1424.6" y="565" textLength="32.2" lengthAdjust="spacingAndGlyphs">0.96470</text>
<rect x="1420" y="305" width="41" height="11" fill="#000" shape-rendering="crispEdges"/>
<text x="1424.6" y="314" fill="#fff" textLength="32.2" lengthAdjust="spacingAndGlyphs">0.99381</text>
<rect x="1420" y="146" width="41" height="11" fill="#ff0000" shape-rendering="crispEdges"/>
<text x="1424.6" y="155" fill="#fff" textLength="32.2" lengthAdjust="spacingAndGlyphs">1.01205</text>
<rect x="1420" y="241" width="41" height="11" fill="#ff0000" shape-rendering="crispEdges"/>
<text x="1424.6" y="250" fill="#fff" textLength="32.2" lengthAdjust="spacingAndGlyphs">1.00106</text>
<rect x="1420" y="301" width="41" height="11" fill="#00ff00" shape-rendering="crispEdges"/>
<text x="1424.6" y="310" fill="#fff" textLength="32.2" lengthAdjust="spacingAndGlyphs">0.99406</text>
<rect x="1420" y="422" width="41" height="11" fill="#0000ff" shape-rendering="crispEdges"/>
<text x="1424.6" y="431" fill="#fff" textLength="32.2" lengthAdjust="spacingAndGlyphs">0.98004</text>
<rect x="1420" y="509" width="41" height="11" fill="#0000ff" shape-rendering="crispEdges"/>
<text x="1424.6" y="518" fill="#fff" textLength="32.2" lengthAdjust="spacingAndGlyphs">0.97001</text>
<rect x="1419" y="568" width="1" height="1" fill="#000" shape-rendering="crispEdges"/>
<text x="1422.5" y="577">0.00613</text>
<rect x="1419" y="613" width="2" height="1" fill="#000" shape-rendering="crispEdges"/>
<text x="1422.5" y="617">0.00</text>
<rect x="1419" y="668" width="1" height="1" fill="#000" shape-rendering="crispEdges"/>
<text x="1422.5" y="666">-0.007612</text>
<rect x="1419" y="673" width="1" height="1" fill="#000" shape-rendering="crispEdges"/>
<text x="1422.5" y="682">100</text>
<text x="1421.2" y="715">70</text>
<text x="1421.2" y="766">30</text>
<rect x="1419" y="800" width="1" height="1" fill="#000" shape-rendering="crispEdges"/>
<text x="1422.5" y="798">0</text>
<text x="2.5" y="814">2 Nov 2018</text>
<text x="66.5" y="814">21 Nov 2018</text>
<text x="130.5" y="814">10 Dec 2018</text>
<text x="194.5" y="814">28 Dec 2018</text>
<text x="258.5" y="814">16 Jan 2019</text>
<text x="322.5" y="814">4 Feb 2019</text>
<text x="386.5" y="814">22 Feb 2019</text>
<text x="450.5" y="814">13 Mar 2019</text>
<text x="514.5" y="814">1 Apr 2019</text>
<text x="578.5" y="814">21 Apr 2019</text>
<text x="642.5" y="814">9 May 2019</text>
<text x="706.5" y="814">28 May 2019</text>
<text x="770.5" y="814">16 Jun 2019</text>
<text x="834.5" y="814">4 Jul 2019</text>
<text x="898.5" y="814">23 Jul 2019</text>
<text x="962.5" y="814">11 Aug 2019</text>
<text x="1026.5" y="814">29 Aug 2019</text>
<text x="1090.5" y="814">17 Sep 2019</text>
<path d="M6 32h7l-3.5 4z" fill="#000"/>
<text x="18.2" y="37" textLength="67.5" lengthAdjust="spacingAndGlyphs">USDCHF-,Daily</text>
<text x="92.3" y="37" textLength="32.7" lengthAdjust="spacingAndGlyphs">0.99307</text>
<text x="128.1" y="37" textLength="32.7" lengthAdjust="spacingAndGlyphs">0.99440</text>
<text x="163.8" y="37" textLength="32.7" lengthAdjust="spacingAndGlyphs">0.99307</text>
<text x="200.1" y="37" textLength="32.7" lengthAdjust="spacingAndGlyphs">0.99381</text>
<text x="7" y="579" textLength="148" lengthAdjust="spacingAndGlyphs">MACD(12,26,9) 0.001884 0.002316</text>
<text x="7.2" y="684" textLength="68" lengthAdjust="spacingAndGlyphs">RSI(14) 56.5429</text>
</g>
<rect x="0" y="822" width="1461" height="1" fill="#e6e6e6"/>
<rect x="0" y="824" width="1461" height="1" fill="#000"/>
<rect x="0" y="825" width="1461" height="1" fill="#fff"/>
<rect x="0" y="826" width="1461" height="17" fill="#f0f0f0"/>
<rect x="219" y="825" width="1" height="18" fill="#fff"/>
<rect x="220" y="824" width="108" height="19" fill="#fff"/>
<rect x="220" y="824" width="1" height="19" fill="#000"/>
<rect x="327" y="824" width="1" height="19" fill="#000"/>
<rect x="220" y="842" width="108" height="1" fill="#000"/>
<rect x="221" y="823" width="106" height="1" fill="#fff"/>
<g font-family="'Liberation Sans',sans-serif" font-size="12.3" shape-rendering="auto">
<text x="15.6" y="839" fill="#7d7d7d" textLength="84.4" lengthAdjust="spacingAndGlyphs">EURUSD-,Daily</text>
<text x="121.8" y="839" fill="#7d7d7d" textLength="87.2" lengthAdjust="spacingAndGlyphs">AUDUSD-,Daily</text>
<text x="232.2" y="839" fill="#000" textLength="84.2" lengthAdjust="spacingAndGlyphs">USDCHF-,Daily</text>
<text x="339.4" y="839" fill="#7d7d7d" textLength="85.6" lengthAdjust="spacingAndGlyphs">USDCAD-,Daily</text>
<text x="447.8" y="839" fill="#7d7d7d" textLength="88.2" lengthAdjust="spacingAndGlyphs">USDCNH-,Daily</text>
<text x="559" y="839" fill="#7d7d7d" textLength="97.0" lengthAdjust="spacingAndGlyphs">EURCHF-,Weekly</text>
<text x="678.8" y="839" fill="#7d7d7d" textLength="85.9" lengthAdjust="spacingAndGlyphs">XAUUSD-,Daily</text>
<text x="787" y="839" fill="#7d7d7d" textLength="72.5" lengthAdjust="spacingAndGlyphs">GBPUSD-,H1</text>
<text x="882.8" y="839" fill="#7d7d7d" textLength="56.2" lengthAdjust="spacingAndGlyphs">UKOil-,H1</text>
<text x="962.2" y="839" fill="#7d7d7d" textLength="82.1" lengthAdjust="spacingAndGlyphs">USDX-,Weekly</text>
<text x="1067.2" y="839" fill="#7d7d7d" textLength="96.8" lengthAdjust="spacingAndGlyphs">EURCHF-,Weekly</text>
</g>
<rect x="112" y="827" width="1" height="14" fill="#666"/>
<rect x="436" y="827" width="1" height="14" fill="#666"/>
<rect x="548" y="827" width="1" height="14" fill="#666"/>
<rect x="667" y="827" width="1" height="14" fill="#666"/>
<rect x="776" y="827" width="1" height="14" fill="#666"/>
<rect x="871" y="827" width="1" height="14" fill="#666"/>
<rect x="952" y="827" width="1" height="14" fill="#666"/>
<rect x="1056" y="827" width="1" height="14" fill="#666"/>
<rect x="1176" y="827" width="1" height="14" fill="#666"/>
<path d="M1433 833.5l4-3.5v7z" fill="#a0a0a0" shape-rendering="auto"/>
<path d="M1457 833.5l-4-3.5v7z" fill="#a0a0a0" shape-rendering="auto"/>
</svg>

</body></html>
